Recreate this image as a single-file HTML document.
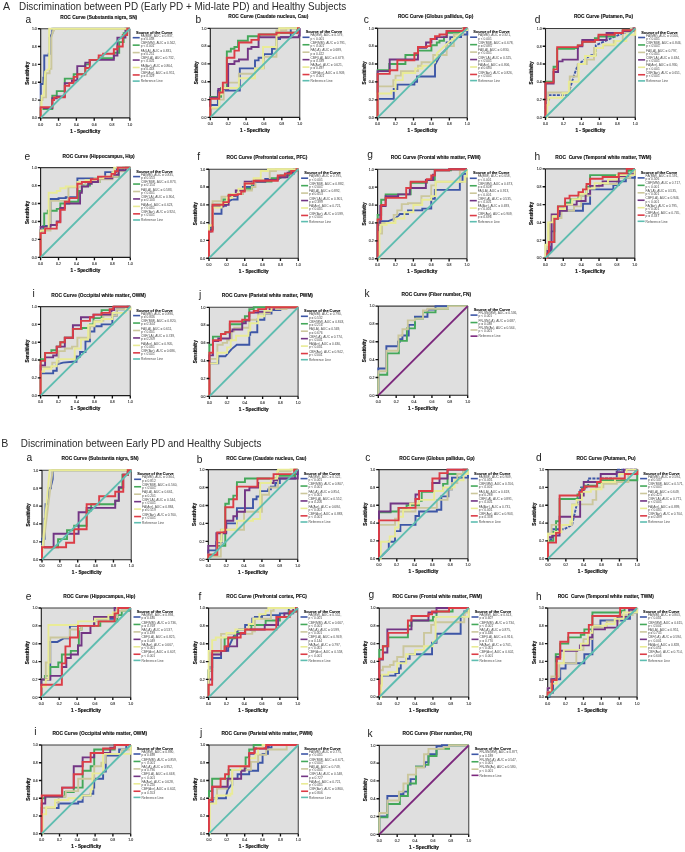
<!DOCTYPE html><html><head><meta charset="utf-8"><style>html,body{margin:0;padding:0;background:#fff;width:685px;height:852px;overflow:hidden}svg{display:block;will-change:transform;filter:blur(0.3px)}text{font-family:"Liberation Sans", sans-serif}</style></head><body>
<svg width="685" height="852" viewBox="0 0 685 852">
<rect width="685" height="852" fill="#fff"/>
<text x="3.1" y="9.5" font-size="10.6" fill="#2a2a2a">A</text>
<text x="19" y="9.5" font-size="10.7" fill="#2a2a2a" textLength="327.1" lengthAdjust="spacingAndGlyphs">Discrimination between PD (Early PD + Mid-late PD) and Healthy Subjects</text>
<text x="1.2" y="447.1" font-size="10.6" fill="#2a2a2a">B</text>
<text x="20.8" y="447.1" font-size="10.7" fill="#2a2a2a" textLength="240.6" lengthAdjust="spacingAndGlyphs">Discrimination between Early PD and Healthy Subjects</text>
<g><text x="25.6" y="23" font-size="10.2" fill="#222">a</text><text x="98.7" y="18.6" font-size="4.8" font-weight="bold" fill="#111" stroke="#111" stroke-width="0.12" text-anchor="middle" xml:space="preserve">ROC Curve (Substantia nigra, SN)</text><rect x="40.7" y="28.7" width="89.2" height="89.2" fill="#dfdfdf"/><path d="M40.7 28.7H129.9" stroke="#3c3c3c" stroke-width="1.1"/><path d="M129.9 28.7V117.9" stroke="#606060" stroke-width="1.25"/><path d="M40.7 28.7V117.9H129.9" fill="none" stroke="#1a1a1a" stroke-width="1.1"/><g fill="none" stroke-width="1.9" stroke-linejoin="miter" stroke-linecap="butt"><polyline points="40.7,117.9 40.7,84 43.38,84 43.38,77.76 44.27,77.76 44.27,65.27 44.27,55.46 47.57,55.46 48.73,55.46 48.73,53.68 49.62,53.68 49.62,37.62 52.3,33.16 52.3,28.7 129.9,28.7" stroke="#3D56A6"/><polyline points="40.7,117.9 40.7,108.98 52.3,108.98 52.3,95.6 56.76,95.6 56.76,91.14 64.78,91.14 64.78,78.65 73.7,78.65 73.7,74.19 85.3,74.19 85.3,64.38 89.76,64.38 89.76,59.92 98.68,59.92 98.68,58.14 113.84,58.14 113.84,52.78 119.2,52.78 119.2,42.08 123.66,42.08 123.66,33.16 127.22,33.16 127.22,28.7 129.9,28.7" stroke="#44A85A"/><polyline points="40.7,117.9 40.7,100.06 42.48,100.06 42.48,97.38 46.05,97.38 46.05,73.3 49.62,73.3 49.62,68.84 51.4,68.84 51.4,37.62 53.19,30.48 54.08,30.48 54.08,28.7 129.9,28.7" stroke="#CBC79C"/><polyline points="40.7,117.9 40.7,108.09 52.3,108.09 52.3,98.28 56.76,98.28 56.76,96.49 64.78,96.49 64.78,83.11 71.92,83.11 71.92,80.44 77.27,80.44 77.27,66.16 85.3,66.16 85.3,62.6 89.76,62.6 89.76,59.92 113.84,59.92 113.84,55.46 117.41,55.46 117.41,37.62 125.44,37.62 125.44,28.7 129.9,28.7" stroke="#723584"/><polyline points="40.7,117.9 40.7,108.98 41.59,108.98 41.59,95.6 43.82,95.6 43.82,94.71 45.16,71.52 48.73,68.84 49.17,68.84 49.17,28.7 129.9,28.7" stroke="#E9EB96"/><polyline points="40.7,117.9 40.7,107.2 52.3,107.2 52.3,100.06 54.08,100.06 54.08,97.38 64.78,97.38 64.78,85.79 69.24,85.79 69.24,83.11 73.7,83.11 73.7,76.87 77.27,76.87 77.27,74.19 85.3,74.19 85.3,67.95 89.76,67.95 89.76,59.92 98.68,59.92 98.68,55.46 103.14,55.46 103.14,53.68 113.84,53.68 113.84,49.22 117.41,49.22 117.41,46.54 122.76,46.54 122.76,34.94 127.22,34.94 127.22,28.7 129.9,28.7" stroke="#DC3C46"/><line x1="40.7" y1="117.9" x2="129.9" y2="28.7" stroke="#5EBDB0"/></g><path d="M40.7 117.9v2.8M40.7 117.9h-2.8" stroke="#111" stroke-width="1.35"/><text x="40.7" y="125.5" font-size="3.5" fill="#2a2a2a" stroke="#2a2a2a" stroke-width="0.1" text-anchor="middle">0.0</text><text x="36.8" y="119.25" font-size="3.5" fill="#2a2a2a" stroke="#2a2a2a" stroke-width="0.1" text-anchor="end">0.0</text><path d="M58.54 117.9v2.8M40.7 100.06h-2.8" stroke="#111" stroke-width="1.35"/><text x="58.54" y="125.5" font-size="3.5" fill="#2a2a2a" stroke="#2a2a2a" stroke-width="0.1" text-anchor="middle">0.2</text><text x="36.8" y="101.41" font-size="3.5" fill="#2a2a2a" stroke="#2a2a2a" stroke-width="0.1" text-anchor="end">0.2</text><path d="M76.38 117.9v2.8M40.7 82.22h-2.8" stroke="#111" stroke-width="1.35"/><text x="76.38" y="125.5" font-size="3.5" fill="#2a2a2a" stroke="#2a2a2a" stroke-width="0.1" text-anchor="middle">0.4</text><text x="36.8" y="83.57" font-size="3.5" fill="#2a2a2a" stroke="#2a2a2a" stroke-width="0.1" text-anchor="end">0.4</text><path d="M94.22 117.9v2.8M40.7 64.38h-2.8" stroke="#111" stroke-width="1.35"/><text x="94.22" y="125.5" font-size="3.5" fill="#2a2a2a" stroke="#2a2a2a" stroke-width="0.1" text-anchor="middle">0.6</text><text x="36.8" y="65.73" font-size="3.5" fill="#2a2a2a" stroke="#2a2a2a" stroke-width="0.1" text-anchor="end">0.6</text><path d="M112.06 117.9v2.8M40.7 46.54h-2.8" stroke="#111" stroke-width="1.35"/><text x="112.06" y="125.5" font-size="3.5" fill="#2a2a2a" stroke="#2a2a2a" stroke-width="0.1" text-anchor="middle">0.8</text><text x="36.8" y="47.89" font-size="3.5" fill="#2a2a2a" stroke="#2a2a2a" stroke-width="0.1" text-anchor="end">0.8</text><path d="M129.9 117.9v2.8M40.7 28.7h-2.8" stroke="#111" stroke-width="1.35"/><text x="129.9" y="125.5" font-size="3.5" fill="#2a2a2a" stroke="#2a2a2a" stroke-width="0.1" text-anchor="middle">1.0</text><text x="36.8" y="30.05" font-size="3.5" fill="#2a2a2a" stroke="#2a2a2a" stroke-width="0.1" text-anchor="end">1.0</text><text x="85.3" y="132.5" font-size="4.65" font-weight="bold" fill="#111" stroke="#111" stroke-width="0.18" text-anchor="middle">1 - Specificity</text><text transform="translate(28.6 73.3) rotate(-90)" font-size="4.6" font-weight="bold" fill="#111" stroke="#111" stroke-width="0.18" text-anchor="middle">Sensitivity</text><text x="135.9" y="33.8" font-size="3.84" font-weight="bold" fill="#111" stroke="#111" stroke-width="0.1">Source of the Curve</text><line x1="132.7" y1="37.7" x2="139.7" y2="37.7" stroke="#3D56A6" stroke-width="1.6"/><text x="140.7" y="36.8" font-size="3.25" fill="#4a4a4a">FA(MM), AUC = 0.837,</text><text x="140.7" y="40" font-size="3.25" fill="#4a4a4a">p = 0.038</text><line x1="132.7" y1="45.15" x2="139.7" y2="45.15" stroke="#44A85A" stroke-width="1.6"/><text x="140.7" y="44.25" font-size="3.25" fill="#4a4a4a">CBF(MM), AUC = 0.562,</text><text x="140.7" y="47.45" font-size="3.25" fill="#4a4a4a">p < 0.001</text><line x1="132.7" y1="52.6" x2="139.7" y2="52.6" stroke="#CBC79C" stroke-width="1.6"/><text x="140.7" y="51.7" font-size="3.25" fill="#4a4a4a">FA(LA), AUC = 0.831,</text><text x="140.7" y="54.9" font-size="3.25" fill="#4a4a4a">p = 0.251</text><line x1="132.7" y1="60.05" x2="139.7" y2="60.05" stroke="#723584" stroke-width="1.6"/><text x="140.7" y="59.15" font-size="3.25" fill="#4a4a4a">CBF(LA), AUC = 0.732,</text><text x="140.7" y="62.35" font-size="3.25" fill="#4a4a4a">p < 0.001</text><line x1="132.7" y1="67.5" x2="139.7" y2="67.5" stroke="#E9EB96" stroke-width="1.6"/><text x="140.7" y="66.6" font-size="3.25" fill="#4a4a4a">FA(Avr), AUC = 0.864,</text><text x="140.7" y="69.8" font-size="3.25" fill="#4a4a4a">p = 0.443</text><line x1="132.7" y1="74.95" x2="139.7" y2="74.95" stroke="#DC3C46" stroke-width="1.6"/><text x="140.7" y="74.05" font-size="3.25" fill="#4a4a4a">CBF(Avr), AUC = 0.911,</text><text x="140.7" y="77.25" font-size="3.25" fill="#4a4a4a">p = 0.329</text><line x1="132.7" y1="81.1" x2="139.7" y2="81.1" stroke="#5EBDB0" stroke-width="1.6"/><text x="140.7" y="82.3" font-size="3.25" fill="#4a4a4a">Reference Line</text></g>
<g><text x="195.4" y="22.9" font-size="10.2" fill="#222">b</text><text x="268.3" y="18.2" font-size="4.8" font-weight="bold" fill="#111" stroke="#111" stroke-width="0.12" text-anchor="middle" xml:space="preserve">ROC Curve (Caudate nucleus, Cau)</text><rect x="210.3" y="28.3" width="89.4" height="89.1" fill="#dfdfdf"/><path d="M210.3 28.3H299.7" stroke="#3c3c3c" stroke-width="1.1"/><path d="M299.7 28.3V117.4" stroke="#606060" stroke-width="1.25"/><path d="M210.3 28.3V117.4H299.7" fill="none" stroke="#1a1a1a" stroke-width="1.1"/><g fill="none" stroke-width="1.9" stroke-linejoin="miter" stroke-linecap="butt"><polyline points="210.3,117.4 210.3,104.93 217.9,104.93 217.9,90.67 239.8,90.67 239.8,68.39 255,68.39 255,60.38 258.58,60.38 258.58,57.7 263.94,57.7 263.94,54.14 271.99,54.14 271.99,48.79 276.46,48.79 276.46,38.99 280.03,38.99 280.03,37.21 290.76,37.21 290.76,28.3 299.7,28.3" stroke="#3D56A6"/><polyline points="210.3,117.4 210.3,96.91 221.03,96.91 221.03,88 226.84,88 226.84,51.47 230.86,51.47 230.86,48.79 234.44,48.79 234.44,47.01 238.01,47.01 238.01,40.77 247.85,40.77 247.85,36.32 259.47,36.32 259.47,34.54 276.46,34.54 276.46,32.75 297.02,32.75 297.02,28.3 299.7,28.3" stroke="#44A85A"/><polyline points="210.3,117.4 210.3,108.49 219.24,108.49 219.24,99.58 223.71,99.58 223.71,82.65 238.91,82.65 238.91,73.74 255,73.74 255,68.39 263.94,68.39 263.94,56.81 276.46,56.81 276.46,30.08 286.29,30.08 286.29,28.3 299.7,28.3" stroke="#CBC79C"/><polyline points="210.3,117.4 210.3,97.8 218.35,97.8 218.35,88.89 228.18,88.89 228.18,63.94 234.44,63.94 234.44,61.27 238.91,61.27 238.91,59.48 247.85,59.48 247.85,48.79 251.42,48.79 251.42,47.01 258.58,47.01 258.58,37.21 298.81,37.21 298.81,35.43 299.7,35.43 299.7,28.3" stroke="#723584"/><polyline points="210.3,117.4 210.3,107.6 219.24,107.6 219.24,94.23 221.92,94.23 221.92,88 238.91,88 238.91,78.2 255,78.2 255,68.39 263.05,68.39 263.05,47.01 276.46,47.01 276.46,35.43 279.14,35.43 279.14,28.3 299.7,28.3" stroke="#E9EB96"/><polyline points="210.3,117.4 210.3,98.69 219.24,98.69 219.24,92.45 222.82,92.45 222.82,82.65 226.84,82.65 226.84,57.7 234.44,57.7 234.44,50.58 238.91,50.58 238.91,42.56 251.42,42.56 251.42,39.88 258.58,39.88 258.58,34.54 276.46,34.54 276.46,32.75 297.91,32.75 297.91,28.3 299.7,28.3" stroke="#DC3C46"/><line x1="210.3" y1="117.4" x2="299.7" y2="28.3" stroke="#5EBDB0"/></g><path d="M210.3 117.4v2.8M210.3 117.4h-2.8" stroke="#111" stroke-width="1.35"/><text x="210.3" y="125" font-size="3.5" fill="#2a2a2a" stroke="#2a2a2a" stroke-width="0.1" text-anchor="middle">0.0</text><text x="206.4" y="118.75" font-size="3.5" fill="#2a2a2a" stroke="#2a2a2a" stroke-width="0.1" text-anchor="end">0.0</text><path d="M228.18 117.4v2.8M210.3 99.58h-2.8" stroke="#111" stroke-width="1.35"/><text x="228.18" y="125" font-size="3.5" fill="#2a2a2a" stroke="#2a2a2a" stroke-width="0.1" text-anchor="middle">0.2</text><text x="206.4" y="100.93" font-size="3.5" fill="#2a2a2a" stroke="#2a2a2a" stroke-width="0.1" text-anchor="end">0.2</text><path d="M246.06 117.4v2.8M210.3 81.76h-2.8" stroke="#111" stroke-width="1.35"/><text x="246.06" y="125" font-size="3.5" fill="#2a2a2a" stroke="#2a2a2a" stroke-width="0.1" text-anchor="middle">0.4</text><text x="206.4" y="83.11" font-size="3.5" fill="#2a2a2a" stroke="#2a2a2a" stroke-width="0.1" text-anchor="end">0.4</text><path d="M263.94 117.4v2.8M210.3 63.94h-2.8" stroke="#111" stroke-width="1.35"/><text x="263.94" y="125" font-size="3.5" fill="#2a2a2a" stroke="#2a2a2a" stroke-width="0.1" text-anchor="middle">0.6</text><text x="206.4" y="65.29" font-size="3.5" fill="#2a2a2a" stroke="#2a2a2a" stroke-width="0.1" text-anchor="end">0.6</text><path d="M281.82 117.4v2.8M210.3 46.12h-2.8" stroke="#111" stroke-width="1.35"/><text x="281.82" y="125" font-size="3.5" fill="#2a2a2a" stroke="#2a2a2a" stroke-width="0.1" text-anchor="middle">0.8</text><text x="206.4" y="47.47" font-size="3.5" fill="#2a2a2a" stroke="#2a2a2a" stroke-width="0.1" text-anchor="end">0.8</text><path d="M299.7 117.4v2.8M210.3 28.3h-2.8" stroke="#111" stroke-width="1.35"/><text x="299.7" y="125" font-size="3.5" fill="#2a2a2a" stroke="#2a2a2a" stroke-width="0.1" text-anchor="middle">1.0</text><text x="206.4" y="29.65" font-size="3.5" fill="#2a2a2a" stroke="#2a2a2a" stroke-width="0.1" text-anchor="end">1.0</text><text x="255" y="132" font-size="4.65" font-weight="bold" fill="#111" stroke="#111" stroke-width="0.18" text-anchor="middle">1 - Specificity</text><text transform="translate(198.2 72.85) rotate(-90)" font-size="4.6" font-weight="bold" fill="#111" stroke="#111" stroke-width="0.18" text-anchor="middle">Sensitivity</text><text x="305.7" y="33.4" font-size="3.84" font-weight="bold" fill="#111" stroke="#111" stroke-width="0.1">Source of the Curve</text><line x1="302.5" y1="37.3" x2="309.5" y2="37.3" stroke="#3D56A6" stroke-width="1.6"/><text x="310.5" y="36.4" font-size="3.25" fill="#4a4a4a">FA(MM), AUC = 0.579,</text><text x="310.5" y="39.6" font-size="3.25" fill="#4a4a4a">p < 0.001</text><line x1="302.5" y1="44.75" x2="309.5" y2="44.75" stroke="#44A85A" stroke-width="1.6"/><text x="310.5" y="43.85" font-size="3.25" fill="#4a4a4a">CBF(MM), AUC = 0.791,</text><text x="310.5" y="47.05" font-size="3.25" fill="#4a4a4a">p < 0.001</text><line x1="302.5" y1="52.2" x2="309.5" y2="52.2" stroke="#CBC79C" stroke-width="1.6"/><text x="310.5" y="51.3" font-size="3.25" fill="#4a4a4a">FA(LA), AUC = 0.689,</text><text x="310.5" y="54.5" font-size="3.25" fill="#4a4a4a">p = 0.422</text><line x1="302.5" y1="59.65" x2="309.5" y2="59.65" stroke="#723584" stroke-width="1.6"/><text x="310.5" y="58.75" font-size="3.25" fill="#4a4a4a">CBF(LA), AUC = 0.679,</text><text x="310.5" y="61.95" font-size="3.25" fill="#4a4a4a">p = 0.339</text><line x1="302.5" y1="67.1" x2="309.5" y2="67.1" stroke="#E9EB96" stroke-width="1.6"/><text x="310.5" y="66.2" font-size="3.25" fill="#4a4a4a">FA(Avr), AUC = 0.621,</text><text x="310.5" y="69.4" font-size="3.25" fill="#4a4a4a">p = 0.497</text><line x1="302.5" y1="74.55" x2="309.5" y2="74.55" stroke="#DC3C46" stroke-width="1.6"/><text x="310.5" y="73.65" font-size="3.25" fill="#4a4a4a">CBF(Avr), AUC = 0.909,</text><text x="310.5" y="76.85" font-size="3.25" fill="#4a4a4a">p < 0.001</text><line x1="302.5" y1="80.7" x2="309.5" y2="80.7" stroke="#5EBDB0" stroke-width="1.6"/><text x="310.5" y="81.9" font-size="3.25" fill="#4a4a4a">Reference Line</text></g>
<g><text x="363.8" y="23" font-size="10.2" fill="#222">c</text><text x="435.6" y="18.1" font-size="4.8" font-weight="bold" fill="#111" stroke="#111" stroke-width="0.12" text-anchor="middle" xml:space="preserve">ROC Curve (Globus pallidus, Gp)</text><rect x="377.6" y="28.2" width="89.7" height="89.5" fill="#dfdfdf"/><path d="M377.6 28.2H467.3" stroke="#3c3c3c" stroke-width="1.1"/><path d="M467.3 28.2V117.7" stroke="#606060" stroke-width="1.25"/><path d="M377.6 28.2V117.7H467.3" fill="none" stroke="#1a1a1a" stroke-width="1.1"/><g fill="none" stroke-width="1.9" stroke-linejoin="miter" stroke-linecap="butt"><polyline points="377.6,117.7 377.6,98.91 393.75,98.91 393.75,89.06 397.33,89.06 397.33,84.59 414.38,84.59 414.38,81.9 417.07,81.9 417.07,76.53 435.01,76.53 435.01,64.9 440.39,55.05 446.67,48.78 446.67,42.52 450.26,42.52 450.26,37.15 461.02,37.15 461.02,34.47 467.3,34.47 467.3,28.2" stroke="#3D56A6"/><polyline points="377.6,117.7 377.6,70.27 389.26,70.27 389.26,64 405.41,64 405.41,55.05 417.97,55.05 417.97,50.58 431.42,50.58 431.42,45.2 436.8,45.2 436.8,42.52 439.49,42.52 439.49,40.73 443.98,40.73 443.98,37.15 446.67,37.15 446.67,32.68 462.82,32.68 462.82,28.2 467.3,28.2" stroke="#44A85A"/><polyline points="377.6,117.7 377.6,86.38 393.3,86.38 393.3,80.11 395.54,80.11 395.54,75.64 400.92,75.64 400.92,71.16 417.97,71.16 417.97,65.79 421.55,65.79 421.55,62.21 433.21,62.21 433.21,55.05 446.67,55.05 446.67,46.1 453.85,46.1 453.85,34.47 462.82,34.47 462.82,28.2 467.3,28.2" stroke="#CBC79C"/><polyline points="377.6,117.7 377.6,71.16 389.71,71.16 389.71,59.52 417.97,59.52 417.97,47.89 426.04,47.89 426.04,42.52 431.42,42.52 431.42,38.94 436.8,38.94 436.8,37.15 446.67,37.15 446.67,30.89 464.61,30.89 464.61,28.2 467.3,28.2" stroke="#723584"/><polyline points="377.6,117.7 377.6,93.53 391.06,93.53 391.06,90.85 395.54,90.85 395.54,80.11 402.72,80.11 402.72,72.95 415.27,72.95 415.27,68.47 422.45,68.47 422.45,65.79 431.42,65.79 431.42,62.21 435.01,62.21 435.01,58.63 436.8,58.63 436.8,53.26 449.36,41.62 465.51,29.99 467.3,29.99 467.3,28.2" stroke="#E9EB96"/><polyline points="377.6,117.7 377.6,73.84 389.71,73.84 389.71,70.27 397.33,70.27 397.33,60.42 414.38,60.42 414.38,53.26 417.97,53.26 417.97,47 426.94,47 426.94,46.1 430.52,46.1 430.52,38.94 435.01,38.94 435.01,36.25 439.49,36.25 439.49,34.47 446.67,34.47 446.67,30.89 463.71,30.89 463.71,28.2 467.3,28.2" stroke="#DC3C46"/><line x1="377.6" y1="117.7" x2="467.3" y2="28.2" stroke="#5EBDB0"/></g><path d="M377.6 117.7v2.8M377.6 117.7h-2.8" stroke="#111" stroke-width="1.35"/><text x="377.6" y="125.3" font-size="3.5" fill="#2a2a2a" stroke="#2a2a2a" stroke-width="0.1" text-anchor="middle">0.0</text><text x="373.7" y="119.05" font-size="3.5" fill="#2a2a2a" stroke="#2a2a2a" stroke-width="0.1" text-anchor="end">0.0</text><path d="M395.54 117.7v2.8M377.6 99.8h-2.8" stroke="#111" stroke-width="1.35"/><text x="395.54" y="125.3" font-size="3.5" fill="#2a2a2a" stroke="#2a2a2a" stroke-width="0.1" text-anchor="middle">0.2</text><text x="373.7" y="101.15" font-size="3.5" fill="#2a2a2a" stroke="#2a2a2a" stroke-width="0.1" text-anchor="end">0.2</text><path d="M413.48 117.7v2.8M377.6 81.9h-2.8" stroke="#111" stroke-width="1.35"/><text x="413.48" y="125.3" font-size="3.5" fill="#2a2a2a" stroke="#2a2a2a" stroke-width="0.1" text-anchor="middle">0.4</text><text x="373.7" y="83.25" font-size="3.5" fill="#2a2a2a" stroke="#2a2a2a" stroke-width="0.1" text-anchor="end">0.4</text><path d="M431.42 117.7v2.8M377.6 64h-2.8" stroke="#111" stroke-width="1.35"/><text x="431.42" y="125.3" font-size="3.5" fill="#2a2a2a" stroke="#2a2a2a" stroke-width="0.1" text-anchor="middle">0.6</text><text x="373.7" y="65.35" font-size="3.5" fill="#2a2a2a" stroke="#2a2a2a" stroke-width="0.1" text-anchor="end">0.6</text><path d="M449.36 117.7v2.8M377.6 46.1h-2.8" stroke="#111" stroke-width="1.35"/><text x="449.36" y="125.3" font-size="3.5" fill="#2a2a2a" stroke="#2a2a2a" stroke-width="0.1" text-anchor="middle">0.8</text><text x="373.7" y="47.45" font-size="3.5" fill="#2a2a2a" stroke="#2a2a2a" stroke-width="0.1" text-anchor="end">0.8</text><path d="M467.3 117.7v2.8M377.6 28.2h-2.8" stroke="#111" stroke-width="1.35"/><text x="467.3" y="125.3" font-size="3.5" fill="#2a2a2a" stroke="#2a2a2a" stroke-width="0.1" text-anchor="middle">1.0</text><text x="373.7" y="29.55" font-size="3.5" fill="#2a2a2a" stroke="#2a2a2a" stroke-width="0.1" text-anchor="end">1.0</text><text x="422.45" y="132.3" font-size="4.65" font-weight="bold" fill="#111" stroke="#111" stroke-width="0.18" text-anchor="middle">1 - Specificity</text><text transform="translate(365.5 72.95) rotate(-90)" font-size="4.6" font-weight="bold" fill="#111" stroke="#111" stroke-width="0.18" text-anchor="middle">Sensitivity</text><text x="473.3" y="33.3" font-size="3.84" font-weight="bold" fill="#111" stroke="#111" stroke-width="0.1">Source of the Curve</text><line x1="470.1" y1="37.2" x2="477.1" y2="37.2" stroke="#3D56A6" stroke-width="1.6"/><text x="478.1" y="36.3" font-size="3.25" fill="#4a4a4a">FA(MM), AUC = 0.921,</text><text x="478.1" y="39.5" font-size="3.25" fill="#4a4a4a">p < 0.001</text><line x1="470.1" y1="44.65" x2="477.1" y2="44.65" stroke="#44A85A" stroke-width="1.6"/><text x="478.1" y="43.75" font-size="3.25" fill="#4a4a4a">CBF(MM), AUC = 0.678,</text><text x="478.1" y="46.95" font-size="3.25" fill="#4a4a4a">p = 0.085</text><line x1="470.1" y1="52.1" x2="477.1" y2="52.1" stroke="#CBC79C" stroke-width="1.6"/><text x="478.1" y="51.2" font-size="3.25" fill="#4a4a4a">FA(LA), AUC = 0.830,</text><text x="478.1" y="54.4" font-size="3.25" fill="#4a4a4a">p < 0.001</text><line x1="470.1" y1="59.55" x2="477.1" y2="59.55" stroke="#723584" stroke-width="1.6"/><text x="478.1" y="58.65" font-size="3.25" fill="#4a4a4a">CBF(LA), AUC = 0.525,</text><text x="478.1" y="61.85" font-size="3.25" fill="#4a4a4a">p < 0.001</text><line x1="470.1" y1="67" x2="477.1" y2="67" stroke="#E9EB96" stroke-width="1.6"/><text x="478.1" y="66.1" font-size="3.25" fill="#4a4a4a">FA(Avr), AUC = 0.806,</text><text x="478.1" y="69.3" font-size="3.25" fill="#4a4a4a">p = 0.680</text><line x1="470.1" y1="74.45" x2="477.1" y2="74.45" stroke="#DC3C46" stroke-width="1.6"/><text x="478.1" y="73.55" font-size="3.25" fill="#4a4a4a">CBF(Avr), AUC = 0.826,</text><text x="478.1" y="76.75" font-size="3.25" fill="#4a4a4a">p < 0.001</text><line x1="470.1" y1="80.6" x2="477.1" y2="80.6" stroke="#5EBDB0" stroke-width="1.6"/><text x="478.1" y="81.8" font-size="3.25" fill="#4a4a4a">Reference Line</text></g>
<g><text x="534.8" y="23" font-size="10.2" fill="#222">d</text><text x="603.5" y="18.4" font-size="4.8" font-weight="bold" fill="#111" stroke="#111" stroke-width="0.12" text-anchor="middle" xml:space="preserve">ROC Curve (Putamen, Pu)</text><rect x="545.5" y="28.5" width="89.8" height="88.8" fill="#dfdfdf"/><path d="M545.5 28.5H635.3" stroke="#3c3c3c" stroke-width="1.1"/><path d="M635.3 28.5V117.3" stroke="#606060" stroke-width="1.25"/><path d="M545.5 28.5V117.3H635.3" fill="none" stroke="#1a1a1a" stroke-width="1.1"/><g fill="none" stroke-width="1.9" stroke-linejoin="miter" stroke-linecap="butt"><polyline points="545.5,117.3 545.5,99.54 549.09,99.54 549.09,95.1 567.95,95.1 574.24,74.68 577.83,64.91 590.4,55.14 595.79,55.14 595.79,45.37 612.85,37.38 635.3,28.5" stroke="#3D56A6" stroke-dasharray="3 1.2"/><polyline points="545.5,117.3 545.5,81.78 553.58,81.78 553.58,66.68 557.17,66.68 557.17,48.92 574.24,48.92 574.24,48.04 577.83,48.04 577.83,45.37 582.32,45.37 582.32,41.82 594.89,41.82 594.89,38.27 598.48,38.27 598.48,36.49 614.65,36.49 614.65,32.94 622.73,32.94 622.73,30.28 633.5,30.28 633.5,28.5 635.3,28.5" stroke="#44A85A"/><polyline points="545.5,117.3 545.5,99.54 548.19,99.54 548.19,92.44 569.75,92.44 569.75,76.45 577.83,76.45 577.83,64.02 586.81,64.02 586.81,59.58 593.99,59.58 593.99,48.04 602.97,48.04 602.97,45.37 613.75,45.37 613.75,40.93 622.73,40.93 622.73,32.05 630.81,32.05 630.81,28.5 635.3,28.5" stroke="#CBC79C"/><polyline points="545.5,117.3 545.5,83.56 553.58,83.56 553.58,72.01 558.07,72.01 558.07,61.36 562.56,61.36 562.56,59.58 577.83,59.58 577.83,46.26 582.32,46.26 582.32,40.04 606.56,40.04 606.56,32.94 622.73,32.94 622.73,31.16 633.5,31.16 633.5,28.5 635.3,28.5" stroke="#723584"/><polyline points="545.5,117.3 547.3,117.3 547.3,104.87 548.64,104.87 548.64,97.76 562.56,97.76 562.56,93.32 568.85,93.32 568.85,81.78 578.73,81.78 578.73,64.02 585.01,64.02 585.01,56.03 595.79,56.03 595.79,48.04 602.97,48.04 602.97,44.48 615.54,44.48 615.54,40.93 626.32,40.93 626.32,34.72 635.3,34.72 635.3,28.5" stroke="#E9EB96"/><polyline points="545.5,117.3 545.5,82.67 553.58,82.67 553.58,69.35 557.17,69.35 557.17,47.15 577.83,47.15 577.83,45.37 582.32,45.37 582.32,41.82 594.89,41.82 594.89,40.04 598.48,40.04 598.48,34.72 614.65,34.72 614.65,32.94 622.73,32.94 622.73,30.28 634.4,30.28 634.4,28.5 635.3,28.5" stroke="#DC3C46"/><line x1="545.5" y1="117.3" x2="635.3" y2="28.5" stroke="#5EBDB0"/></g><path d="M545.5 117.3v2.8M545.5 117.3h-2.8" stroke="#111" stroke-width="1.35"/><text x="545.5" y="124.9" font-size="3.5" fill="#2a2a2a" stroke="#2a2a2a" stroke-width="0.1" text-anchor="middle">0.0</text><text x="541.6" y="118.65" font-size="3.5" fill="#2a2a2a" stroke="#2a2a2a" stroke-width="0.1" text-anchor="end">0.0</text><path d="M563.46 117.3v2.8M545.5 99.54h-2.8" stroke="#111" stroke-width="1.35"/><text x="563.46" y="124.9" font-size="3.5" fill="#2a2a2a" stroke="#2a2a2a" stroke-width="0.1" text-anchor="middle">0.2</text><text x="541.6" y="100.89" font-size="3.5" fill="#2a2a2a" stroke="#2a2a2a" stroke-width="0.1" text-anchor="end">0.2</text><path d="M581.42 117.3v2.8M545.5 81.78h-2.8" stroke="#111" stroke-width="1.35"/><text x="581.42" y="124.9" font-size="3.5" fill="#2a2a2a" stroke="#2a2a2a" stroke-width="0.1" text-anchor="middle">0.4</text><text x="541.6" y="83.13" font-size="3.5" fill="#2a2a2a" stroke="#2a2a2a" stroke-width="0.1" text-anchor="end">0.4</text><path d="M599.38 117.3v2.8M545.5 64.02h-2.8" stroke="#111" stroke-width="1.35"/><text x="599.38" y="124.9" font-size="3.5" fill="#2a2a2a" stroke="#2a2a2a" stroke-width="0.1" text-anchor="middle">0.6</text><text x="541.6" y="65.37" font-size="3.5" fill="#2a2a2a" stroke="#2a2a2a" stroke-width="0.1" text-anchor="end">0.6</text><path d="M617.34 117.3v2.8M545.5 46.26h-2.8" stroke="#111" stroke-width="1.35"/><text x="617.34" y="124.9" font-size="3.5" fill="#2a2a2a" stroke="#2a2a2a" stroke-width="0.1" text-anchor="middle">0.8</text><text x="541.6" y="47.61" font-size="3.5" fill="#2a2a2a" stroke="#2a2a2a" stroke-width="0.1" text-anchor="end">0.8</text><path d="M635.3 117.3v2.8M545.5 28.5h-2.8" stroke="#111" stroke-width="1.35"/><text x="635.3" y="124.9" font-size="3.5" fill="#2a2a2a" stroke="#2a2a2a" stroke-width="0.1" text-anchor="middle">1.0</text><text x="541.6" y="29.85" font-size="3.5" fill="#2a2a2a" stroke="#2a2a2a" stroke-width="0.1" text-anchor="end">1.0</text><text x="590.4" y="131.9" font-size="4.65" font-weight="bold" fill="#111" stroke="#111" stroke-width="0.18" text-anchor="middle">1 - Specificity</text><text transform="translate(533.4 72.9) rotate(-90)" font-size="4.6" font-weight="bold" fill="#111" stroke="#111" stroke-width="0.18" text-anchor="middle">Sensitivity</text><text x="641.3" y="33.6" font-size="3.84" font-weight="bold" fill="#111" stroke="#111" stroke-width="0.1">Source of the Curve</text><line x1="638.1" y1="37.5" x2="645.1" y2="37.5" stroke="#3D56A6" stroke-width="1.6"/><text x="646.1" y="36.6" font-size="3.25" fill="#4a4a4a">FA(MM), AUC = 0.566,</text><text x="646.1" y="39.8" font-size="3.25" fill="#4a4a4a">p < 0.001</text><line x1="638.1" y1="44.95" x2="645.1" y2="44.95" stroke="#44A85A" stroke-width="1.6"/><text x="646.1" y="44.05" font-size="3.25" fill="#4a4a4a">CBF(MM), AUC = 0.846,</text><text x="646.1" y="47.25" font-size="3.25" fill="#4a4a4a">p < 0.001</text><line x1="638.1" y1="52.4" x2="645.1" y2="52.4" stroke="#CBC79C" stroke-width="1.6"/><text x="646.1" y="51.5" font-size="3.25" fill="#4a4a4a">FA(LA), AUC = 0.797,</text><text x="646.1" y="54.7" font-size="3.25" fill="#4a4a4a">p < 0.001</text><line x1="638.1" y1="59.85" x2="645.1" y2="59.85" stroke="#723584" stroke-width="1.6"/><text x="646.1" y="58.95" font-size="3.25" fill="#4a4a4a">CBF(LA), AUC = 0.634,</text><text x="646.1" y="62.15" font-size="3.25" fill="#4a4a4a">p < 0.001</text><line x1="638.1" y1="67.3" x2="645.1" y2="67.3" stroke="#E9EB96" stroke-width="1.6"/><text x="646.1" y="66.4" font-size="3.25" fill="#4a4a4a">FA(Avr), AUC = 0.930,</text><text x="646.1" y="69.6" font-size="3.25" fill="#4a4a4a">p < 0.001</text><line x1="638.1" y1="74.75" x2="645.1" y2="74.75" stroke="#DC3C46" stroke-width="1.6"/><text x="646.1" y="73.85" font-size="3.25" fill="#4a4a4a">CBF(Avr), AUC = 0.651,</text><text x="646.1" y="77.05" font-size="3.25" fill="#4a4a4a">p < 0.001</text><line x1="638.1" y1="80.9" x2="645.1" y2="80.9" stroke="#5EBDB0" stroke-width="1.6"/><text x="646.1" y="82.1" font-size="3.25" fill="#4a4a4a">Reference Line</text></g>
<g><text x="24.45" y="160" font-size="10.2" fill="#222">e</text><text x="98.6" y="157.5" font-size="4.8" font-weight="bold" fill="#111" stroke="#111" stroke-width="0.12" text-anchor="middle" xml:space="preserve">ROC Curve (Hippocampus, Hip)</text><rect x="40.6" y="167.6" width="89.7" height="89.8" fill="#dfdfdf"/><path d="M40.6 167.6H130.3" stroke="#3c3c3c" stroke-width="1.1"/><path d="M130.3 167.6V257.4" stroke="#606060" stroke-width="1.25"/><path d="M40.6 167.6V257.4H130.3" fill="none" stroke="#1a1a1a" stroke-width="1.1"/><g fill="none" stroke-width="1.9" stroke-linejoin="miter" stroke-linecap="butt"><polyline points="40.6,257.4 40.6,230.46 43.29,230.46 43.29,225.97 50.47,225.97 50.47,199.03 58.54,199.03 58.54,198.13 65.72,198.13 65.72,197.23 77.38,197.23 77.38,178.38 105.18,178.38 105.18,172.09 116.84,172.09 116.84,167.6 130.3,167.6" stroke="#3D56A6"/><polyline points="40.6,257.4 40.6,230.46 44.19,230.46 44.19,213.4 47.78,213.4 47.78,210.7 56.75,210.7 56.75,208.91 60.33,208.91 60.33,203.52 69.3,203.52 69.3,201.72 78.27,201.72 78.27,190.95 81.86,190.95 81.86,185.56 89.94,185.56 89.94,181.97 99.8,181.97 99.8,178.82 110.57,178.82 110.57,176.58 118.64,176.58 118.64,170.29 123.12,170.29 123.12,167.6 130.3,167.6" stroke="#44A85A"/><polyline points="40.6,257.4 40.6,230.46 50.47,230.46 50.47,200.83 68.41,200.83 68.41,199.03 68.41,187.36 79.17,187.36 79.17,186.46 85.45,186.46 85.45,181.97 99.8,181.97 99.8,179.27 112.36,179.27 112.36,176.58 117.74,176.58 117.74,171.19 125.81,171.19 125.81,167.6 130.3,167.6" stroke="#CBC79C"/><polyline points="40.6,257.4 40.6,226.87 50.47,226.87 50.47,225.07 56.75,225.07 56.75,221.48 60.33,221.48 60.33,208.01 64.82,208.01 64.82,203.52 80.07,203.52 80.07,192.74 81.86,192.74 81.86,186.46 88.14,186.46 88.14,183.76 91.73,183.76 91.73,181.97 98.01,181.97 98.01,178.38 112.36,178.38 112.36,174.78 118.64,174.78 118.64,170.29 125.81,170.29 125.81,167.6 130.3,167.6" stroke="#723584"/><polyline points="40.6,257.4 40.6,230.46 45.09,230.46 45.09,228.66 48.67,228.66 48.67,192.74 56.75,192.74 56.75,190.95 60.33,190.95 60.33,188.25 65.72,188.25 65.72,186.46 77.38,186.46 77.38,181.97 85.45,181.97 85.45,180.17 94.42,180.17 94.42,178.38 103.39,178.38 103.39,176.58 112.36,176.58 112.36,172.09 114.15,172.09 114.15,167.6 130.3,167.6" stroke="#E9EB96"/><polyline points="40.6,257.4 40.6,233.15 45.09,233.15 45.09,228.66 56.75,228.66 56.75,222.38 60.33,222.38 60.33,209.81 64.82,209.81 64.82,201.72 69.3,201.72 69.3,198.13 77.38,198.13 77.38,183.76 81.86,183.76 81.86,181.97 90.83,181.97 90.83,179.27 98.01,179.27 98.01,176.58 111.46,176.58 111.46,173.89 115.05,173.89 115.05,171.19 117.74,171.19 117.74,167.6 130.3,167.6" stroke="#DC3C46"/><line x1="40.6" y1="257.4" x2="130.3" y2="167.6" stroke="#5EBDB0"/></g><path d="M40.6 257.4v2.8M40.6 257.4h-2.8" stroke="#111" stroke-width="1.35"/><text x="40.6" y="265" font-size="3.5" fill="#2a2a2a" stroke="#2a2a2a" stroke-width="0.1" text-anchor="middle">0.0</text><text x="36.7" y="258.75" font-size="3.5" fill="#2a2a2a" stroke="#2a2a2a" stroke-width="0.1" text-anchor="end">0.0</text><path d="M58.54 257.4v2.8M40.6 239.44h-2.8" stroke="#111" stroke-width="1.35"/><text x="58.54" y="265" font-size="3.5" fill="#2a2a2a" stroke="#2a2a2a" stroke-width="0.1" text-anchor="middle">0.2</text><text x="36.7" y="240.79" font-size="3.5" fill="#2a2a2a" stroke="#2a2a2a" stroke-width="0.1" text-anchor="end">0.2</text><path d="M76.48 257.4v2.8M40.6 221.48h-2.8" stroke="#111" stroke-width="1.35"/><text x="76.48" y="265" font-size="3.5" fill="#2a2a2a" stroke="#2a2a2a" stroke-width="0.1" text-anchor="middle">0.4</text><text x="36.7" y="222.83" font-size="3.5" fill="#2a2a2a" stroke="#2a2a2a" stroke-width="0.1" text-anchor="end">0.4</text><path d="M94.42 257.4v2.8M40.6 203.52h-2.8" stroke="#111" stroke-width="1.35"/><text x="94.42" y="265" font-size="3.5" fill="#2a2a2a" stroke="#2a2a2a" stroke-width="0.1" text-anchor="middle">0.6</text><text x="36.7" y="204.87" font-size="3.5" fill="#2a2a2a" stroke="#2a2a2a" stroke-width="0.1" text-anchor="end">0.6</text><path d="M112.36 257.4v2.8M40.6 185.56h-2.8" stroke="#111" stroke-width="1.35"/><text x="112.36" y="265" font-size="3.5" fill="#2a2a2a" stroke="#2a2a2a" stroke-width="0.1" text-anchor="middle">0.8</text><text x="36.7" y="186.91" font-size="3.5" fill="#2a2a2a" stroke="#2a2a2a" stroke-width="0.1" text-anchor="end">0.8</text><path d="M130.3 257.4v2.8M40.6 167.6h-2.8" stroke="#111" stroke-width="1.35"/><text x="130.3" y="265" font-size="3.5" fill="#2a2a2a" stroke="#2a2a2a" stroke-width="0.1" text-anchor="middle">1.0</text><text x="36.7" y="168.95" font-size="3.5" fill="#2a2a2a" stroke="#2a2a2a" stroke-width="0.1" text-anchor="end">1.0</text><text x="85.45" y="272" font-size="4.65" font-weight="bold" fill="#111" stroke="#111" stroke-width="0.18" text-anchor="middle">1 - Specificity</text><text transform="translate(28.5 212.5) rotate(-90)" font-size="4.6" font-weight="bold" fill="#111" stroke="#111" stroke-width="0.18" text-anchor="middle">Sensitivity</text><text x="136.3" y="172.7" font-size="3.84" font-weight="bold" fill="#111" stroke="#111" stroke-width="0.1">Source of the Curve</text><line x1="133.1" y1="176.6" x2="140.1" y2="176.6" stroke="#3D56A6" stroke-width="1.6"/><text x="141.1" y="175.7" font-size="3.25" fill="#4a4a4a">FA(MM), AUC = 0.835,</text><text x="141.1" y="178.9" font-size="3.25" fill="#4a4a4a">p = 0.553</text><line x1="133.1" y1="184.05" x2="140.1" y2="184.05" stroke="#44A85A" stroke-width="1.6"/><text x="141.1" y="183.15" font-size="3.25" fill="#4a4a4a">CBF(MM), AUC = 0.873,</text><text x="141.1" y="186.35" font-size="3.25" fill="#4a4a4a">p = 0.154</text><line x1="133.1" y1="191.5" x2="140.1" y2="191.5" stroke="#CBC79C" stroke-width="1.6"/><text x="141.1" y="190.6" font-size="3.25" fill="#4a4a4a">FA(LA), AUC = 0.583,</text><text x="141.1" y="193.8" font-size="3.25" fill="#4a4a4a">p < 0.001</text><line x1="133.1" y1="198.95" x2="140.1" y2="198.95" stroke="#723584" stroke-width="1.6"/><text x="141.1" y="198.05" font-size="3.25" fill="#4a4a4a">CBF(LA), AUC = 0.904,</text><text x="141.1" y="201.25" font-size="3.25" fill="#4a4a4a">p = 0.100</text><line x1="133.1" y1="206.4" x2="140.1" y2="206.4" stroke="#E9EB96" stroke-width="1.6"/><text x="141.1" y="205.5" font-size="3.25" fill="#4a4a4a">FA(Avr), AUC = 0.623,</text><text x="141.1" y="208.7" font-size="3.25" fill="#4a4a4a">p < 0.001</text><line x1="133.1" y1="213.85" x2="140.1" y2="213.85" stroke="#DC3C46" stroke-width="1.6"/><text x="141.1" y="212.95" font-size="3.25" fill="#4a4a4a">CBF(Avr), AUC = 0.924,</text><text x="141.1" y="216.15" font-size="3.25" fill="#4a4a4a">p < 0.001</text><line x1="133.1" y1="220" x2="140.1" y2="220" stroke="#5EBDB0" stroke-width="1.6"/><text x="141.1" y="221.2" font-size="3.25" fill="#4a4a4a">Reference Line</text></g>
<g><text x="197.2" y="159.8" font-size="10.2" fill="#222">f</text><text x="267" y="159.1" font-size="4.8" font-weight="bold" fill="#111" stroke="#111" stroke-width="0.12" text-anchor="middle" xml:space="preserve">ROC Curve (Prefrontal cortex, PFC)</text><rect x="209" y="169.2" width="89.3" height="89" fill="#dfdfdf"/><path d="M209 169.2H298.3" stroke="#3c3c3c" stroke-width="1.1"/><path d="M298.3 169.2V258.2" stroke="#606060" stroke-width="1.25"/><path d="M209 169.2V258.2H298.3" fill="none" stroke="#1a1a1a" stroke-width="1.1"/><g fill="none" stroke-width="1.9" stroke-linejoin="miter" stroke-linecap="butt"><polyline points="209,258.2 209,231.5 210.79,231.5 210.79,226.16 212.57,226.16 212.57,213.7 221.5,213.7 221.5,205.69 225.97,205.69 225.97,203.02 232.22,199.46 237.58,199.46 237.58,194.12 242.93,194.12 242.93,187 253.65,187 253.65,181.66 265.26,181.66 265.26,178.99 278.65,178.99 278.65,177.21 284.9,177.21 284.9,173.65 293.83,173.65 293.83,169.2 298.3,169.2" stroke="#3D56A6"/><polyline points="209,258.2 209,228.83 212.57,228.83 212.57,204.8 223.29,204.8 223.29,199.46 228.65,199.46 228.65,195.9 235.79,195.9 235.79,194.12 242.93,194.12 242.93,188.78 251.86,188.78 251.86,187 251.86,181.66 271.51,181.66 271.51,178.1 280.44,178.1 280.44,175.43 289.37,175.43 289.37,170.98 295.62,170.98 295.62,169.2 298.3,169.2" stroke="#44A85A"/><polyline points="209,258.2 209,226.16 212.57,226.16 212.57,201.24 221.5,201.24 221.5,196.79 228.65,196.79 228.65,194.12 242.93,194.12 242.93,190.56 251.86,190.56 251.86,187 255.44,187 255.44,179.88 269.72,179.88 269.72,170.98 275.98,170.98 275.98,169.2 298.3,169.2" stroke="#CBC79C"/><polyline points="209,258.2 209,229.72 212.57,229.72 212.57,206.58 223.29,206.58 223.29,204.8 228.65,204.8 228.65,195.9 235.79,195.9 235.79,190.56 244.72,190.56 244.72,181.66 253.65,181.66 265.26,181.66 265.26,179.88 277.76,179.88 277.76,177.21 287.58,177.21 287.58,172.76 293.83,172.76 293.83,169.2 298.3,169.2" stroke="#723584"/><polyline points="209,258.2 209,225.27 212.57,225.27 212.57,207.47 221.5,207.47 221.5,203.02 226.86,203.02 226.86,197.68 232.22,197.68 232.22,194.12 238.47,194.12 238.47,188.78 244.72,188.78 244.72,183.44 253.65,183.44 253.65,178.1 260.79,178.1 260.79,170.98 267.94,170.98 267.94,169.2 298.3,169.2" stroke="#E9EB96"/><polyline points="209,258.2 209,231.5 212.57,231.5 212.57,204.8 223.29,204.8 223.29,202.13 228.65,202.13 228.65,195.01 237.58,195.01 237.58,194.12 241.15,194.12 241.15,191.45 244.72,191.45 244.72,183.44 253.65,183.44 253.65,180.77 277.76,180.77 277.76,175.43 284.9,175.43 284.9,173.65 291.16,173.65 291.16,170.98 296.51,170.98 296.51,169.2 298.3,169.2" stroke="#DC3C46"/><line x1="209" y1="258.2" x2="298.3" y2="169.2" stroke="#5EBDB0"/></g><path d="M209 258.2v2.8M209 258.2h-2.8" stroke="#111" stroke-width="1.35"/><text x="209" y="265.8" font-size="3.5" fill="#2a2a2a" stroke="#2a2a2a" stroke-width="0.1" text-anchor="middle">0.0</text><text x="205.1" y="259.55" font-size="3.5" fill="#2a2a2a" stroke="#2a2a2a" stroke-width="0.1" text-anchor="end">0.0</text><path d="M226.86 258.2v2.8M209 240.4h-2.8" stroke="#111" stroke-width="1.35"/><text x="226.86" y="265.8" font-size="3.5" fill="#2a2a2a" stroke="#2a2a2a" stroke-width="0.1" text-anchor="middle">0.2</text><text x="205.1" y="241.75" font-size="3.5" fill="#2a2a2a" stroke="#2a2a2a" stroke-width="0.1" text-anchor="end">0.2</text><path d="M244.72 258.2v2.8M209 222.6h-2.8" stroke="#111" stroke-width="1.35"/><text x="244.72" y="265.8" font-size="3.5" fill="#2a2a2a" stroke="#2a2a2a" stroke-width="0.1" text-anchor="middle">0.4</text><text x="205.1" y="223.95" font-size="3.5" fill="#2a2a2a" stroke="#2a2a2a" stroke-width="0.1" text-anchor="end">0.4</text><path d="M262.58 258.2v2.8M209 204.8h-2.8" stroke="#111" stroke-width="1.35"/><text x="262.58" y="265.8" font-size="3.5" fill="#2a2a2a" stroke="#2a2a2a" stroke-width="0.1" text-anchor="middle">0.6</text><text x="205.1" y="206.15" font-size="3.5" fill="#2a2a2a" stroke="#2a2a2a" stroke-width="0.1" text-anchor="end">0.6</text><path d="M280.44 258.2v2.8M209 187h-2.8" stroke="#111" stroke-width="1.35"/><text x="280.44" y="265.8" font-size="3.5" fill="#2a2a2a" stroke="#2a2a2a" stroke-width="0.1" text-anchor="middle">0.8</text><text x="205.1" y="188.35" font-size="3.5" fill="#2a2a2a" stroke="#2a2a2a" stroke-width="0.1" text-anchor="end">0.8</text><path d="M298.3 258.2v2.8M209 169.2h-2.8" stroke="#111" stroke-width="1.35"/><text x="298.3" y="265.8" font-size="3.5" fill="#2a2a2a" stroke="#2a2a2a" stroke-width="0.1" text-anchor="middle">1.0</text><text x="205.1" y="170.55" font-size="3.5" fill="#2a2a2a" stroke="#2a2a2a" stroke-width="0.1" text-anchor="end">1.0</text><text x="253.65" y="272.8" font-size="4.65" font-weight="bold" fill="#111" stroke="#111" stroke-width="0.18" text-anchor="middle">1 - Specificity</text><text transform="translate(196.9 213.7) rotate(-90)" font-size="4.6" font-weight="bold" fill="#111" stroke="#111" stroke-width="0.18" text-anchor="middle">Sensitivity</text><text x="304.3" y="174.3" font-size="3.84" font-weight="bold" fill="#111" stroke="#111" stroke-width="0.1">Source of the Curve</text><line x1="301.1" y1="178.2" x2="308.1" y2="178.2" stroke="#3D56A6" stroke-width="1.6"/><text x="309.1" y="177.3" font-size="3.25" fill="#4a4a4a">FA(MM), AUC = 0.795,</text><text x="309.1" y="180.5" font-size="3.25" fill="#4a4a4a">p < 0.001</text><line x1="301.1" y1="185.65" x2="308.1" y2="185.65" stroke="#44A85A" stroke-width="1.6"/><text x="309.1" y="184.75" font-size="3.25" fill="#4a4a4a">CBF(MM), AUC = 0.882,</text><text x="309.1" y="187.95" font-size="3.25" fill="#4a4a4a">p < 0.001</text><line x1="301.1" y1="193.1" x2="308.1" y2="193.1" stroke="#CBC79C" stroke-width="1.6"/><text x="309.1" y="192.2" font-size="3.25" fill="#4a4a4a">FA(LA), AUC = 0.892,</text><text x="309.1" y="195.4" font-size="3.25" fill="#4a4a4a">p = 0.653</text><line x1="301.1" y1="200.55" x2="308.1" y2="200.55" stroke="#723584" stroke-width="1.6"/><text x="309.1" y="199.65" font-size="3.25" fill="#4a4a4a">CBF(LA), AUC = 0.901,</text><text x="309.1" y="202.85" font-size="3.25" fill="#4a4a4a">p = 0.399</text><line x1="301.1" y1="208" x2="308.1" y2="208" stroke="#E9EB96" stroke-width="1.6"/><text x="309.1" y="207.1" font-size="3.25" fill="#4a4a4a">FA(Avr), AUC = 0.721,</text><text x="309.1" y="210.3" font-size="3.25" fill="#4a4a4a">p < 0.001</text><line x1="301.1" y1="215.45" x2="308.1" y2="215.45" stroke="#DC3C46" stroke-width="1.6"/><text x="309.1" y="214.55" font-size="3.25" fill="#4a4a4a">CBF(Avr), AUC = 0.599,</text><text x="309.1" y="217.75" font-size="3.25" fill="#4a4a4a">p < 0.001</text><line x1="301.1" y1="221.6" x2="308.1" y2="221.6" stroke="#5EBDB0" stroke-width="1.6"/><text x="309.1" y="222.8" font-size="3.25" fill="#4a4a4a">Reference Line</text></g>
<g><text x="367.2" y="158" font-size="10.2" fill="#222">g</text><text x="435.6" y="159.2" font-size="4.8" font-weight="bold" fill="#111" stroke="#111" stroke-width="0.12" text-anchor="middle" xml:space="preserve">ROC Curve (Frontal white matter, FWM)</text><rect x="377.6" y="169.3" width="89.4" height="89.4" fill="#dfdfdf"/><path d="M377.6 169.3H467" stroke="#3c3c3c" stroke-width="1.1"/><path d="M467 169.3V258.7" stroke="#606060" stroke-width="1.25"/><path d="M377.6 169.3V258.7H467" fill="none" stroke="#1a1a1a" stroke-width="1.1"/><g fill="none" stroke-width="1.9" stroke-linejoin="miter" stroke-linecap="butt"><polyline points="377.6,258.7 377.6,222.94 380.28,222.94 380.28,221.15 388.33,221.15 395.48,218.47 399.95,214 408,214 408,210.42 422.3,210.42 422.3,208.64 431.24,208.64 431.24,198.8 434.82,198.8 434.82,189.86 459.85,189.86 459.85,181.82 462.53,181.82 462.53,173.77 467,173.77 467,169.3" stroke="#3D56A6"/><polyline points="377.6,258.7 377.6,214.89 381.18,214.89 381.18,199.7 385.65,199.7 385.65,194.33 410.68,194.33 410.68,182.71 426.77,182.71 426.77,180.03 434.82,180.03 434.82,170.19 450.91,170.19 450.91,169.3 467,169.3" stroke="#44A85A"/><polyline points="377.6,258.7 378.49,258.7 378.49,233.67 382.07,233.67 382.07,222.94 393.69,222.94 393.69,214.89 397.27,214.89 397.27,210.42 401.74,210.42 401.74,204.17 408,204.17 408,203.27 421.41,203.27 421.41,196.12 431.24,196.12 431.24,185.39 435.71,185.39 435.71,181.82 459.85,181.82 459.85,170.19 467,170.19 467,169.3" stroke="#CBC79C"/><polyline points="377.6,258.7 377.6,224.73 380.28,224.73 380.28,205.95 385.65,205.95 385.65,196.12 398.16,196.12 398.16,194.33 409.78,194.33 409.78,188.07 425.88,188.07 425.88,180.03 433.03,180.03 433.03,174.66 434.82,174.66 434.82,170.19 449.12,170.19 449.12,169.3 467,169.3" stroke="#723584"/><polyline points="377.6,258.7 379.39,258.7 379.39,231.88 380.28,231.88 380.28,224.73 386.54,224.73 386.54,222.94 395.48,222.94 395.48,218.47 404.42,218.47 404.42,212.21 413.36,212.21 413.36,205.06 422.3,205.06 422.3,199.7 431.24,199.7 431.24,196.12 435.71,196.12 435.71,181.82 465.21,181.82 465.21,176.45 467,176.45 467,169.3" stroke="#E9EB96"/><polyline points="377.6,258.7 377.6,219.36 381.18,219.36 381.18,205.06 385.65,205.06 385.65,197.91 406.21,197.91 406.21,188.07 410.68,188.07 410.68,181.82 426.77,181.82 426.77,179.13 431.24,179.13 431.24,175.56 434.82,175.56 434.82,170.19 449.12,170.19 449.12,169.3 467,169.3" stroke="#DC3C46"/><line x1="377.6" y1="258.7" x2="467" y2="169.3" stroke="#5EBDB0"/></g><path d="M377.6 258.7v2.8M377.6 258.7h-2.8" stroke="#111" stroke-width="1.35"/><text x="377.6" y="266.3" font-size="3.5" fill="#2a2a2a" stroke="#2a2a2a" stroke-width="0.1" text-anchor="middle">0.0</text><text x="373.7" y="260.05" font-size="3.5" fill="#2a2a2a" stroke="#2a2a2a" stroke-width="0.1" text-anchor="end">0.0</text><path d="M395.48 258.7v2.8M377.6 240.82h-2.8" stroke="#111" stroke-width="1.35"/><text x="395.48" y="266.3" font-size="3.5" fill="#2a2a2a" stroke="#2a2a2a" stroke-width="0.1" text-anchor="middle">0.2</text><text x="373.7" y="242.17" font-size="3.5" fill="#2a2a2a" stroke="#2a2a2a" stroke-width="0.1" text-anchor="end">0.2</text><path d="M413.36 258.7v2.8M377.6 222.94h-2.8" stroke="#111" stroke-width="1.35"/><text x="413.36" y="266.3" font-size="3.5" fill="#2a2a2a" stroke="#2a2a2a" stroke-width="0.1" text-anchor="middle">0.4</text><text x="373.7" y="224.29" font-size="3.5" fill="#2a2a2a" stroke="#2a2a2a" stroke-width="0.1" text-anchor="end">0.4</text><path d="M431.24 258.7v2.8M377.6 205.06h-2.8" stroke="#111" stroke-width="1.35"/><text x="431.24" y="266.3" font-size="3.5" fill="#2a2a2a" stroke="#2a2a2a" stroke-width="0.1" text-anchor="middle">0.6</text><text x="373.7" y="206.41" font-size="3.5" fill="#2a2a2a" stroke="#2a2a2a" stroke-width="0.1" text-anchor="end">0.6</text><path d="M449.12 258.7v2.8M377.6 187.18h-2.8" stroke="#111" stroke-width="1.35"/><text x="449.12" y="266.3" font-size="3.5" fill="#2a2a2a" stroke="#2a2a2a" stroke-width="0.1" text-anchor="middle">0.8</text><text x="373.7" y="188.53" font-size="3.5" fill="#2a2a2a" stroke="#2a2a2a" stroke-width="0.1" text-anchor="end">0.8</text><path d="M467 258.7v2.8M377.6 169.3h-2.8" stroke="#111" stroke-width="1.35"/><text x="467" y="266.3" font-size="3.5" fill="#2a2a2a" stroke="#2a2a2a" stroke-width="0.1" text-anchor="middle">1.0</text><text x="373.7" y="170.65" font-size="3.5" fill="#2a2a2a" stroke="#2a2a2a" stroke-width="0.1" text-anchor="end">1.0</text><text x="422.3" y="273.3" font-size="4.65" font-weight="bold" fill="#111" stroke="#111" stroke-width="0.18" text-anchor="middle">1 - Specificity</text><text transform="translate(365.5 214) rotate(-90)" font-size="4.6" font-weight="bold" fill="#111" stroke="#111" stroke-width="0.18" text-anchor="middle">Sensitivity</text><text x="473" y="174.4" font-size="3.84" font-weight="bold" fill="#111" stroke="#111" stroke-width="0.1">Source of the Curve</text><line x1="469.8" y1="178.3" x2="476.8" y2="178.3" stroke="#3D56A6" stroke-width="1.6"/><text x="477.8" y="177.4" font-size="3.25" fill="#4a4a4a">FA(MM), AUC = 0.658,</text><text x="477.8" y="180.6" font-size="3.25" fill="#4a4a4a">p < 0.001</text><line x1="469.8" y1="185.75" x2="476.8" y2="185.75" stroke="#44A85A" stroke-width="1.6"/><text x="477.8" y="184.85" font-size="3.25" fill="#4a4a4a">CBF(MM), AUC = 0.673,</text><text x="477.8" y="188.05" font-size="3.25" fill="#4a4a4a">p = 0.608</text><line x1="469.8" y1="193.2" x2="476.8" y2="193.2" stroke="#CBC79C" stroke-width="1.6"/><text x="477.8" y="192.3" font-size="3.25" fill="#4a4a4a">FA(LA), AUC = 0.913,</text><text x="477.8" y="195.5" font-size="3.25" fill="#4a4a4a">p < 0.001</text><line x1="469.8" y1="200.65" x2="476.8" y2="200.65" stroke="#723584" stroke-width="1.6"/><text x="477.8" y="199.75" font-size="3.25" fill="#4a4a4a">CBF(LA), AUC = 0.535,</text><text x="477.8" y="202.95" font-size="3.25" fill="#4a4a4a">p < 0.001</text><line x1="469.8" y1="208.1" x2="476.8" y2="208.1" stroke="#E9EB96" stroke-width="1.6"/><text x="477.8" y="207.2" font-size="3.25" fill="#4a4a4a">FA(Avr), AUC = 0.693,</text><text x="477.8" y="210.4" font-size="3.25" fill="#4a4a4a">p < 0.001</text><line x1="469.8" y1="215.55" x2="476.8" y2="215.55" stroke="#DC3C46" stroke-width="1.6"/><text x="477.8" y="214.65" font-size="3.25" fill="#4a4a4a">CBF(Avr), AUC = 0.909,</text><text x="477.8" y="217.85" font-size="3.25" fill="#4a4a4a">p = 0.696</text><line x1="469.8" y1="221.7" x2="476.8" y2="221.7" stroke="#5EBDB0" stroke-width="1.6"/><text x="477.8" y="222.9" font-size="3.25" fill="#4a4a4a">Reference Line</text></g>
<g><text x="534.5" y="159.8" font-size="10.2" fill="#222">h</text><text x="603.4" y="158.8" font-size="4.8" font-weight="bold" fill="#111" stroke="#111" stroke-width="0.12" text-anchor="middle" xml:space="preserve">ROC  Curve (Temporal white matter, TWM)</text><rect x="545.4" y="168.9" width="89.4" height="89.2" fill="#dfdfdf"/><path d="M545.4 168.9H634.8" stroke="#3c3c3c" stroke-width="1.1"/><path d="M634.8 168.9V258.1" stroke="#606060" stroke-width="1.25"/><path d="M545.4 168.9V258.1H634.8" fill="none" stroke="#1a1a1a" stroke-width="1.1"/><g fill="none" stroke-width="1.9" stroke-linejoin="miter" stroke-linecap="butt"><polyline points="545.4,258.1 547.19,258.1 547.19,249.18 550.76,249.18 550.76,231.34 554.34,231.34 554.34,217.96 559.7,217.96 559.7,210.82 582.95,210.82 582.95,203.69 590.1,203.69 590.1,192.98 590.1,189.42 599.04,189.42 613.34,189.42 613.34,184.96 618.71,184.96 618.71,181.39 625.86,181.39 625.86,177.82 634.8,177.82 634.8,168.9" stroke="#3D56A6"/><polyline points="545.4,258.1 547.19,258.1 547.19,253.64 548.98,253.64 548.98,242.04 554.34,242.04 554.34,218.85 557.92,218.85 557.92,206.36 565.07,206.36 565.07,202.8 570.43,202.8 570.43,199.23 578.48,199.23 578.48,195.66 586.52,195.66 586.52,186.74 590.1,186.74 590.1,175.14 618.71,175.14 618.71,173.36 627.65,173.36 627.65,170.68 632.12,170.68 632.12,168.9 634.8,168.9" stroke="#44A85A"/><polyline points="545.4,258.1 547.19,258.1 547.19,244.72 549.87,244.72 549.87,222.42 554.34,222.42 554.34,217.96 561.49,217.96 561.49,210.82 574.01,210.82 574.01,206.36 581.16,206.36 581.16,195.66 590.1,195.66 590.1,186.74 599.04,186.74 599.04,184.06 616.92,184.06 616.92,177.82 630.33,177.82 630.33,172.47 634.8,172.47 634.8,168.9" stroke="#CBC79C"/><polyline points="545.4,258.1 547.19,258.1 547.19,250.96 551.66,250.96 551.66,214.39 559.7,214.39 559.7,210.82 566.86,210.82 566.86,204.58 576.69,204.58 576.69,201.01 585.63,201.01 585.63,193.88 590.1,193.88 590.1,185.85 602.62,185.85 602.62,181.39 618.71,181.39 618.71,176.04 627.65,176.04 627.65,174.25 634.8,174.25 634.8,168.9" stroke="#723584"/><polyline points="545.4,258.1 545.4,244.72 548.08,244.72 548.08,222.42 552.55,222.42 552.55,216.18 557.92,216.18 557.92,209.04 565.07,209.04 565.07,204.58 572.22,204.58 572.22,199.23 579.37,199.23 579.37,193.88 586.52,193.88 586.52,188.52 594.57,188.52 594.57,183.17 607.98,183.17 607.98,179.6 616.92,179.6 616.92,175.14 634.8,175.14 634.8,173.36 634.8,168.9" stroke="#E9EB96"/><polyline points="545.4,258.1 547.19,258.1 547.19,253.64 548.98,253.64 548.98,242.04 554.34,242.04 554.34,218.85 557.92,218.85 557.92,206.36 565.07,206.36 565.07,198.34 569.54,198.34 569.54,195.66 578.48,195.66 578.48,192.09 582.95,192.09 582.95,189.42 586.52,189.42 586.52,184.06 590.1,184.06 590.1,178.71 602.62,178.71 602.62,176.93 618.71,176.93 618.71,173.36 626.75,173.36 626.75,168.9 634.8,168.9" stroke="#DC3C46"/><line x1="545.4" y1="258.1" x2="634.8" y2="168.9" stroke="#5EBDB0"/></g><path d="M545.4 258.1v2.8M545.4 258.1h-2.8" stroke="#111" stroke-width="1.35"/><text x="545.4" y="265.7" font-size="3.5" fill="#2a2a2a" stroke="#2a2a2a" stroke-width="0.1" text-anchor="middle">0.0</text><text x="541.5" y="259.45" font-size="3.5" fill="#2a2a2a" stroke="#2a2a2a" stroke-width="0.1" text-anchor="end">0.0</text><path d="M563.28 258.1v2.8M545.4 240.26h-2.8" stroke="#111" stroke-width="1.35"/><text x="563.28" y="265.7" font-size="3.5" fill="#2a2a2a" stroke="#2a2a2a" stroke-width="0.1" text-anchor="middle">0.2</text><text x="541.5" y="241.61" font-size="3.5" fill="#2a2a2a" stroke="#2a2a2a" stroke-width="0.1" text-anchor="end">0.2</text><path d="M581.16 258.1v2.8M545.4 222.42h-2.8" stroke="#111" stroke-width="1.35"/><text x="581.16" y="265.7" font-size="3.5" fill="#2a2a2a" stroke="#2a2a2a" stroke-width="0.1" text-anchor="middle">0.4</text><text x="541.5" y="223.77" font-size="3.5" fill="#2a2a2a" stroke="#2a2a2a" stroke-width="0.1" text-anchor="end">0.4</text><path d="M599.04 258.1v2.8M545.4 204.58h-2.8" stroke="#111" stroke-width="1.35"/><text x="599.04" y="265.7" font-size="3.5" fill="#2a2a2a" stroke="#2a2a2a" stroke-width="0.1" text-anchor="middle">0.6</text><text x="541.5" y="205.93" font-size="3.5" fill="#2a2a2a" stroke="#2a2a2a" stroke-width="0.1" text-anchor="end">0.6</text><path d="M616.92 258.1v2.8M545.4 186.74h-2.8" stroke="#111" stroke-width="1.35"/><text x="616.92" y="265.7" font-size="3.5" fill="#2a2a2a" stroke="#2a2a2a" stroke-width="0.1" text-anchor="middle">0.8</text><text x="541.5" y="188.09" font-size="3.5" fill="#2a2a2a" stroke="#2a2a2a" stroke-width="0.1" text-anchor="end">0.8</text><path d="M634.8 258.1v2.8M545.4 168.9h-2.8" stroke="#111" stroke-width="1.35"/><text x="634.8" y="265.7" font-size="3.5" fill="#2a2a2a" stroke="#2a2a2a" stroke-width="0.1" text-anchor="middle">1.0</text><text x="541.5" y="170.25" font-size="3.5" fill="#2a2a2a" stroke="#2a2a2a" stroke-width="0.1" text-anchor="end">1.0</text><text x="590.1" y="272.7" font-size="4.65" font-weight="bold" fill="#111" stroke="#111" stroke-width="0.18" text-anchor="middle">1 - Specificity</text><text transform="translate(533.3 213.5) rotate(-90)" font-size="4.6" font-weight="bold" fill="#111" stroke="#111" stroke-width="0.18" text-anchor="middle">Sensitivity</text><text x="640.8" y="174" font-size="3.84" font-weight="bold" fill="#111" stroke="#111" stroke-width="0.1">Source of the Curve</text><line x1="637.6" y1="177.9" x2="644.6" y2="177.9" stroke="#3D56A6" stroke-width="1.6"/><text x="645.6" y="177" font-size="3.25" fill="#4a4a4a">FA(MM), AUC = 0.591,</text><text x="645.6" y="180.2" font-size="3.25" fill="#4a4a4a">p = 0.506</text><line x1="637.6" y1="185.35" x2="644.6" y2="185.35" stroke="#44A85A" stroke-width="1.6"/><text x="645.6" y="184.45" font-size="3.25" fill="#4a4a4a">CBF(MM), AUC = 0.717,</text><text x="645.6" y="187.65" font-size="3.25" fill="#4a4a4a">p < 0.001</text><line x1="637.6" y1="192.8" x2="644.6" y2="192.8" stroke="#CBC79C" stroke-width="1.6"/><text x="645.6" y="191.9" font-size="3.25" fill="#4a4a4a">FA(LA), AUC = 0.535,</text><text x="645.6" y="195.1" font-size="3.25" fill="#4a4a4a">p < 0.001</text><line x1="637.6" y1="200.25" x2="644.6" y2="200.25" stroke="#723584" stroke-width="1.6"/><text x="645.6" y="199.35" font-size="3.25" fill="#4a4a4a">CBF(LA), AUC = 0.946,</text><text x="645.6" y="202.55" font-size="3.25" fill="#4a4a4a">p < 0.001</text><line x1="637.6" y1="207.7" x2="644.6" y2="207.7" stroke="#E9EB96" stroke-width="1.6"/><text x="645.6" y="206.8" font-size="3.25" fill="#4a4a4a">FA(Avr), AUC = 0.795,</text><text x="645.6" y="210" font-size="3.25" fill="#4a4a4a">p < 0.001</text><line x1="637.6" y1="215.15" x2="644.6" y2="215.15" stroke="#DC3C46" stroke-width="1.6"/><text x="645.6" y="214.25" font-size="3.25" fill="#4a4a4a">CBF(Avr), AUC = 0.745,</text><text x="645.6" y="217.45" font-size="3.25" fill="#4a4a4a">p = 0.337</text><line x1="637.6" y1="221.3" x2="644.6" y2="221.3" stroke="#5EBDB0" stroke-width="1.6"/><text x="645.6" y="222.5" font-size="3.25" fill="#4a4a4a">Reference Line</text></g>
<g><text x="32.6" y="297" font-size="10.2" fill="#222">i</text><text x="98.6" y="296.5" font-size="4.8" font-weight="bold" fill="#111" stroke="#111" stroke-width="0.12" text-anchor="middle" xml:space="preserve">ROC Curve (Occipital white matter, OWM)</text><rect x="40.6" y="306.6" width="89.7" height="89" fill="#dfdfdf"/><path d="M40.6 306.6H130.3" stroke="#3c3c3c" stroke-width="1.1"/><path d="M130.3 306.6V395.6" stroke="#606060" stroke-width="1.25"/><path d="M40.6 306.6V395.6H130.3" fill="none" stroke="#1a1a1a" stroke-width="1.1"/><g fill="none" stroke-width="1.9" stroke-linejoin="miter" stroke-linecap="butt"><polyline points="40.6,395.6 40.6,373.35 53.16,373.35 53.16,370.68 56.75,370.68 56.75,364.45 63.03,362.67 72.89,361.78 76.48,361.78 76.48,356.44 80.07,356.44 80.07,351.99 85.45,351.99 85.45,341.31 89.94,341.31 89.94,331.52 94.42,331.52 94.42,326.18 101.6,326.18 101.6,324.4 112.36,324.4 112.36,315.5 116.84,315.5 116.84,309.27 127.61,309.27 127.61,306.6 130.3,306.6" stroke="#3D56A6"/><polyline points="40.6,395.6 40.6,359.11 45.09,359.11 45.09,352.88 51.36,352.88 51.36,350.21 56.75,350.21 56.75,346.65 60.33,346.65 60.33,342.2 64.82,342.2 64.82,337.75 72.89,337.75 72.89,328.85 81.86,328.85 81.86,327.96 89.94,327.96 89.94,324.4 93.52,324.4 93.52,318.17 101.6,318.17 101.6,310.16 112.36,310.16 112.36,309.27 114.15,309.27 114.15,306.6 130.3,306.6" stroke="#44A85A"/><polyline points="40.6,395.6 40.6,367.12 52.26,367.12 52.26,362.67 58.54,362.67 58.54,351.1 64.82,351.1 64.82,348.43 72,348.43 72,346.65 77.38,346.65 77.38,337.75 88.14,337.75 89.94,337.75 89.94,326.18 94.42,326.18 94.42,320.84 103.39,320.84 103.39,315.5 116.84,315.5 116.84,309.27 130.3,309.27 130.3,306.6" stroke="#CBC79C"/><polyline points="40.6,395.6 40.6,365.34 45.09,365.34 45.09,357.33 53.16,357.33 53.16,355.55 56.75,355.55 56.75,346.65 64.82,346.65 64.82,337.75 72.89,337.75 72.89,325.29 80.97,325.29 80.97,317.28 89.94,317.28 93.52,317.28 93.52,314.61 111.46,314.61 111.46,310.16 114.15,310.16 114.15,306.6 130.3,306.6" stroke="#723584"/><polyline points="40.6,395.6 40.6,371.57 44.19,371.57 44.19,368.9 51.36,368.9 51.36,366.23 56.75,366.23 56.75,359.11 74.69,359.11 74.69,348.43 80.97,348.43 80.97,339.53 88.14,339.53 88.14,325.29 94.42,325.29 94.42,321.73 101.6,321.73 101.6,319.06 112.36,319.06 112.36,312.83 125.81,312.83 125.81,309.27 130.3,309.27 130.3,306.6" stroke="#E9EB96"/><polyline points="40.6,395.6 40.6,360.89 45.09,360.89 45.09,352.88 56.75,352.88 56.75,346.65 60.33,346.65 60.33,342.2 64.82,342.2 64.82,337.75 72.89,337.75 72.89,328.85 80.97,328.85 80.97,320.84 89.94,320.84 89.94,317.28 93.52,317.28 93.52,314.61 101.6,314.61 101.6,312.83 109.67,312.83 109.67,309.27 113.26,309.27 113.26,306.6 130.3,306.6" stroke="#DC3C46"/><line x1="40.6" y1="395.6" x2="130.3" y2="306.6" stroke="#5EBDB0"/></g><path d="M40.6 395.6v2.8M40.6 395.6h-2.8" stroke="#111" stroke-width="1.35"/><text x="40.6" y="403.2" font-size="3.5" fill="#2a2a2a" stroke="#2a2a2a" stroke-width="0.1" text-anchor="middle">0.0</text><text x="36.7" y="396.95" font-size="3.5" fill="#2a2a2a" stroke="#2a2a2a" stroke-width="0.1" text-anchor="end">0.0</text><path d="M58.54 395.6v2.8M40.6 377.8h-2.8" stroke="#111" stroke-width="1.35"/><text x="58.54" y="403.2" font-size="3.5" fill="#2a2a2a" stroke="#2a2a2a" stroke-width="0.1" text-anchor="middle">0.2</text><text x="36.7" y="379.15" font-size="3.5" fill="#2a2a2a" stroke="#2a2a2a" stroke-width="0.1" text-anchor="end">0.2</text><path d="M76.48 395.6v2.8M40.6 360h-2.8" stroke="#111" stroke-width="1.35"/><text x="76.48" y="403.2" font-size="3.5" fill="#2a2a2a" stroke="#2a2a2a" stroke-width="0.1" text-anchor="middle">0.4</text><text x="36.7" y="361.35" font-size="3.5" fill="#2a2a2a" stroke="#2a2a2a" stroke-width="0.1" text-anchor="end">0.4</text><path d="M94.42 395.6v2.8M40.6 342.2h-2.8" stroke="#111" stroke-width="1.35"/><text x="94.42" y="403.2" font-size="3.5" fill="#2a2a2a" stroke="#2a2a2a" stroke-width="0.1" text-anchor="middle">0.6</text><text x="36.7" y="343.55" font-size="3.5" fill="#2a2a2a" stroke="#2a2a2a" stroke-width="0.1" text-anchor="end">0.6</text><path d="M112.36 395.6v2.8M40.6 324.4h-2.8" stroke="#111" stroke-width="1.35"/><text x="112.36" y="403.2" font-size="3.5" fill="#2a2a2a" stroke="#2a2a2a" stroke-width="0.1" text-anchor="middle">0.8</text><text x="36.7" y="325.75" font-size="3.5" fill="#2a2a2a" stroke="#2a2a2a" stroke-width="0.1" text-anchor="end">0.8</text><path d="M130.3 395.6v2.8M40.6 306.6h-2.8" stroke="#111" stroke-width="1.35"/><text x="130.3" y="403.2" font-size="3.5" fill="#2a2a2a" stroke="#2a2a2a" stroke-width="0.1" text-anchor="middle">1.0</text><text x="36.7" y="307.95" font-size="3.5" fill="#2a2a2a" stroke="#2a2a2a" stroke-width="0.1" text-anchor="end">1.0</text><text x="85.45" y="410.2" font-size="4.65" font-weight="bold" fill="#111" stroke="#111" stroke-width="0.18" text-anchor="middle">1 - Specificity</text><text transform="translate(28.5 351.1) rotate(-90)" font-size="4.6" font-weight="bold" fill="#111" stroke="#111" stroke-width="0.18" text-anchor="middle">Sensitivity</text><text x="136.3" y="311.7" font-size="3.84" font-weight="bold" fill="#111" stroke="#111" stroke-width="0.1">Source of the Curve</text><line x1="133.1" y1="315.6" x2="140.1" y2="315.6" stroke="#3D56A6" stroke-width="1.6"/><text x="141.1" y="314.7" font-size="3.25" fill="#4a4a4a">FA(MM), AUC = 0.896,</text><text x="141.1" y="317.9" font-size="3.25" fill="#4a4a4a">p = 0.846</text><line x1="133.1" y1="323.05" x2="140.1" y2="323.05" stroke="#44A85A" stroke-width="1.6"/><text x="141.1" y="322.15" font-size="3.25" fill="#4a4a4a">CBF(MM), AUC = 0.820,</text><text x="141.1" y="325.35" font-size="3.25" fill="#4a4a4a">p = 0.344</text><line x1="133.1" y1="330.5" x2="140.1" y2="330.5" stroke="#CBC79C" stroke-width="1.6"/><text x="141.1" y="329.6" font-size="3.25" fill="#4a4a4a">FA(LA), AUC = 0.611,</text><text x="141.1" y="332.8" font-size="3.25" fill="#4a4a4a">p < 0.001</text><line x1="133.1" y1="337.95" x2="140.1" y2="337.95" stroke="#723584" stroke-width="1.6"/><text x="141.1" y="337.05" font-size="3.25" fill="#4a4a4a">CBF(LA), AUC = 0.749,</text><text x="141.1" y="340.25" font-size="3.25" fill="#4a4a4a">p = 0.269</text><line x1="133.1" y1="345.4" x2="140.1" y2="345.4" stroke="#E9EB96" stroke-width="1.6"/><text x="141.1" y="344.5" font-size="3.25" fill="#4a4a4a">FA(Avr), AUC = 0.905,</text><text x="141.1" y="347.7" font-size="3.25" fill="#4a4a4a">p < 0.001</text><line x1="133.1" y1="352.85" x2="140.1" y2="352.85" stroke="#DC3C46" stroke-width="1.6"/><text x="141.1" y="351.95" font-size="3.25" fill="#4a4a4a">CBF(Avr), AUC = 0.686,</text><text x="141.1" y="355.15" font-size="3.25" fill="#4a4a4a">p < 0.001</text><line x1="133.1" y1="359" x2="140.1" y2="359" stroke="#5EBDB0" stroke-width="1.6"/><text x="141.1" y="360.2" font-size="3.25" fill="#4a4a4a">Reference Line</text></g>
<g><text x="198.9" y="297.7" font-size="10.2" fill="#222">j</text><text x="267.4" y="297.2" font-size="4.8" font-weight="bold" fill="#111" stroke="#111" stroke-width="0.12" text-anchor="middle" xml:space="preserve">ROC Curve (Parietal white matter, PWM)</text><rect x="209.4" y="307.3" width="88.7" height="89" fill="#dfdfdf"/><path d="M209.4 307.3H298.1" stroke="#3c3c3c" stroke-width="1.1"/><path d="M298.1 307.3V396.3" stroke="#606060" stroke-width="1.25"/><path d="M209.4 307.3V396.3H298.1" fill="none" stroke="#1a1a1a" stroke-width="1.1"/><g fill="none" stroke-width="1.9" stroke-linejoin="miter" stroke-linecap="butt"><polyline points="209.4,396.3 209.4,363.37 215.61,363.37 218.27,363.37 218.27,356.25 225.37,356.25 231.58,349.13 236.9,344.68 249.31,344.68 249.31,334.89 250.2,334.89 250.2,332.22 257.3,332.22 257.3,319.76 264.39,319.76 264.39,313.53 271.49,313.53 271.49,309.97 280.36,309.97 280.36,307.3 298.1,307.3" stroke="#3D56A6"/><polyline points="209.4,396.3 209.4,344.68 212.95,344.68 212.95,336.67 220.93,336.67 220.93,334 225.37,334 225.37,332.22 229.8,332.22 229.8,324.21 242.22,324.21 242.22,321.54 244.88,321.54 244.88,316.2 249.31,316.2 249.31,309.08 253.75,309.08 253.75,307.3 298.1,307.3" stroke="#44A85A"/><polyline points="209.4,396.3 209.4,358.92 217.38,358.92 217.38,344.68 222.71,344.68 222.71,342.9 227.14,342.9 227.14,340.23 231.58,340.23 231.58,331.33 234.24,331.33 234.24,327.77 249.31,327.77 249.31,319.76 258.19,319.76 258.19,313.53 269.72,313.53 269.72,309.08 286.57,309.08 286.57,307.3 298.1,307.3" stroke="#CBC79C"/><polyline points="209.4,396.3 209.4,355.36 212.95,355.36 212.95,341.12 218.27,341.12 218.27,338.45 229.8,338.45 229.8,331.33 232.46,331.33 232.46,329.55 242.22,329.55 242.22,323.32 245.77,323.32 245.77,320.65 249.31,320.65 249.31,312.64 258.19,312.64 258.19,311.75 269.72,311.75 269.72,309.08 274.15,309.08 274.15,307.3 298.1,307.3" stroke="#723584"/><polyline points="209.4,396.3 209.4,363.37 217.38,363.37 217.38,352.69 227.14,352.69 227.14,347.35 230.69,347.35 230.69,340.23 236.01,340.23 236.01,335.78 248.43,335.78 248.43,330.44 250.2,330.44 250.2,323.32 258.19,323.32 258.19,316.2 264.39,316.2 264.39,310.86 271.49,310.86 271.49,307.3 298.1,307.3" stroke="#E9EB96"/><polyline points="209.4,396.3 209.4,352.69 212.95,352.69 212.95,340.23 220.93,340.23 220.93,334 225.37,334 225.37,332.22 229.8,332.22 229.8,321.54 242.22,321.54 242.22,319.76 249.31,319.76 249.31,312.64 253.75,312.64 253.75,310.86 258.19,310.86 258.19,309.08 266.17,309.08 266.17,307.3 298.1,307.3" stroke="#DC3C46"/><line x1="209.4" y1="396.3" x2="298.1" y2="307.3" stroke="#5EBDB0"/></g><path d="M209.4 396.3v2.8M209.4 396.3h-2.8" stroke="#111" stroke-width="1.35"/><text x="209.4" y="403.9" font-size="3.5" fill="#2a2a2a" stroke="#2a2a2a" stroke-width="0.1" text-anchor="middle">0.0</text><text x="205.5" y="397.65" font-size="3.5" fill="#2a2a2a" stroke="#2a2a2a" stroke-width="0.1" text-anchor="end">0.0</text><path d="M227.14 396.3v2.8M209.4 378.5h-2.8" stroke="#111" stroke-width="1.35"/><text x="227.14" y="403.9" font-size="3.5" fill="#2a2a2a" stroke="#2a2a2a" stroke-width="0.1" text-anchor="middle">0.2</text><text x="205.5" y="379.85" font-size="3.5" fill="#2a2a2a" stroke="#2a2a2a" stroke-width="0.1" text-anchor="end">0.2</text><path d="M244.88 396.3v2.8M209.4 360.7h-2.8" stroke="#111" stroke-width="1.35"/><text x="244.88" y="403.9" font-size="3.5" fill="#2a2a2a" stroke="#2a2a2a" stroke-width="0.1" text-anchor="middle">0.4</text><text x="205.5" y="362.05" font-size="3.5" fill="#2a2a2a" stroke="#2a2a2a" stroke-width="0.1" text-anchor="end">0.4</text><path d="M262.62 396.3v2.8M209.4 342.9h-2.8" stroke="#111" stroke-width="1.35"/><text x="262.62" y="403.9" font-size="3.5" fill="#2a2a2a" stroke="#2a2a2a" stroke-width="0.1" text-anchor="middle">0.6</text><text x="205.5" y="344.25" font-size="3.5" fill="#2a2a2a" stroke="#2a2a2a" stroke-width="0.1" text-anchor="end">0.6</text><path d="M280.36 396.3v2.8M209.4 325.1h-2.8" stroke="#111" stroke-width="1.35"/><text x="280.36" y="403.9" font-size="3.5" fill="#2a2a2a" stroke="#2a2a2a" stroke-width="0.1" text-anchor="middle">0.8</text><text x="205.5" y="326.45" font-size="3.5" fill="#2a2a2a" stroke="#2a2a2a" stroke-width="0.1" text-anchor="end">0.8</text><path d="M298.1 396.3v2.8M209.4 307.3h-2.8" stroke="#111" stroke-width="1.35"/><text x="298.1" y="403.9" font-size="3.5" fill="#2a2a2a" stroke="#2a2a2a" stroke-width="0.1" text-anchor="middle">1.0</text><text x="205.5" y="308.65" font-size="3.5" fill="#2a2a2a" stroke="#2a2a2a" stroke-width="0.1" text-anchor="end">1.0</text><text x="253.75" y="410.9" font-size="4.65" font-weight="bold" fill="#111" stroke="#111" stroke-width="0.18" text-anchor="middle">1 - Specificity</text><text transform="translate(197.3 351.8) rotate(-90)" font-size="4.6" font-weight="bold" fill="#111" stroke="#111" stroke-width="0.18" text-anchor="middle">Sensitivity</text><text x="304.1" y="312.4" font-size="3.84" font-weight="bold" fill="#111" stroke="#111" stroke-width="0.1">Source of the Curve</text><line x1="300.9" y1="316.3" x2="307.9" y2="316.3" stroke="#3D56A6" stroke-width="1.6"/><text x="308.9" y="315.4" font-size="3.25" fill="#4a4a4a">FA(MM), AUC = 0.790,</text><text x="308.9" y="318.6" font-size="3.25" fill="#4a4a4a">p = 0.532</text><line x1="300.9" y1="323.75" x2="307.9" y2="323.75" stroke="#44A85A" stroke-width="1.6"/><text x="308.9" y="322.85" font-size="3.25" fill="#4a4a4a">CBF(MM), AUC = 0.843,</text><text x="308.9" y="326.05" font-size="3.25" fill="#4a4a4a">p = 0.216</text><line x1="300.9" y1="331.2" x2="307.9" y2="331.2" stroke="#CBC79C" stroke-width="1.6"/><text x="308.9" y="330.3" font-size="3.25" fill="#4a4a4a">FA(LA), AUC = 0.569,</text><text x="308.9" y="333.5" font-size="3.25" fill="#4a4a4a">p = 0.676</text><line x1="300.9" y1="338.65" x2="307.9" y2="338.65" stroke="#723584" stroke-width="1.6"/><text x="308.9" y="337.75" font-size="3.25" fill="#4a4a4a">CBF(LA), AUC = 0.774,</text><text x="308.9" y="340.95" font-size="3.25" fill="#4a4a4a">p < 0.001</text><line x1="300.9" y1="346.1" x2="307.9" y2="346.1" stroke="#E9EB96" stroke-width="1.6"/><text x="308.9" y="345.2" font-size="3.25" fill="#4a4a4a">FA(Avr), AUC = 0.630,</text><text x="308.9" y="348.4" font-size="3.25" fill="#4a4a4a">p < 0.001</text><line x1="300.9" y1="353.55" x2="307.9" y2="353.55" stroke="#DC3C46" stroke-width="1.6"/><text x="308.9" y="352.65" font-size="3.25" fill="#4a4a4a">CBF(Avr), AUC = 0.942,</text><text x="308.9" y="355.85" font-size="3.25" fill="#4a4a4a">p < 0.001</text><line x1="300.9" y1="359.7" x2="307.9" y2="359.7" stroke="#5EBDB0" stroke-width="1.6"/><text x="308.9" y="360.9" font-size="3.25" fill="#4a4a4a">Reference Line</text></g>
<g><text x="364.5" y="297.1" font-size="10.2" fill="#222">k</text><text x="436.3" y="296" font-size="4.8" font-weight="bold" fill="#111" stroke="#111" stroke-width="0.12" text-anchor="middle" xml:space="preserve">ROC Curve (Fiber number, FN)</text><rect x="378.3" y="306.1" width="89.4" height="89.2" fill="#dfdfdf"/><path d="M378.3 306.1H467.7" stroke="#3c3c3c" stroke-width="1.1"/><path d="M467.7 306.1V395.3" stroke="#606060" stroke-width="1.25"/><path d="M378.3 306.1V395.3H467.7" fill="none" stroke="#1a1a1a" stroke-width="1.1"/><g fill="none" stroke-width="1.9" stroke-linejoin="miter" stroke-linecap="butt"><polyline points="378.3,395.3 378.3,368.54 386.35,368.54 386.35,346.24 397.97,346.24 397.97,341.78 399.76,341.78 399.76,339.1 402.44,339.1 402.44,335.54 408.7,335.54 408.7,324.83 414.95,324.83 414.95,316.8 423.89,316.8 427.47,316.8 427.47,309.67 435.52,309.67 435.52,306.1 467.7,306.1" stroke="#3D56A6"/><polyline points="378.3,395.3 378.3,374.78 387.24,374.78 387.24,353.38 398.86,353.38 398.86,340.89 406.91,340.89 406.91,328.4 414.95,328.4 414.95,318.59 423,318.59 423,312.34 435.52,312.34 435.52,308.78 448.03,308.78 448.03,306.1 467.7,306.1" stroke="#44A85A"/><polyline points="378.3,395.3 378.3,371.22 386.35,371.22 386.35,350.7 397.97,350.7 397.97,348.92 398.42,348.92 398.42,335.54 402.44,335.54 402.44,329.29 407.8,329.29 407.8,320.37 414.95,320.37 414.95,318.59 423,318.59 423,310.56 427.47,310.56 427.47,308.78 448.03,308.78 448.03,306.1 467.7,306.1" stroke="#CBC79C"/><line x1="378.3" y1="395.3" x2="467.7" y2="306.1" stroke="#7C287D"/></g><path d="M378.3 395.3v2.8M378.3 395.3h-2.8" stroke="#111" stroke-width="1.35"/><text x="378.3" y="402.9" font-size="3.5" fill="#2a2a2a" stroke="#2a2a2a" stroke-width="0.1" text-anchor="middle">0.0</text><text x="374.4" y="396.65" font-size="3.5" fill="#2a2a2a" stroke="#2a2a2a" stroke-width="0.1" text-anchor="end">0.0</text><path d="M396.18 395.3v2.8M378.3 377.46h-2.8" stroke="#111" stroke-width="1.35"/><text x="396.18" y="402.9" font-size="3.5" fill="#2a2a2a" stroke="#2a2a2a" stroke-width="0.1" text-anchor="middle">0.2</text><text x="374.4" y="378.81" font-size="3.5" fill="#2a2a2a" stroke="#2a2a2a" stroke-width="0.1" text-anchor="end">0.2</text><path d="M414.06 395.3v2.8M378.3 359.62h-2.8" stroke="#111" stroke-width="1.35"/><text x="414.06" y="402.9" font-size="3.5" fill="#2a2a2a" stroke="#2a2a2a" stroke-width="0.1" text-anchor="middle">0.4</text><text x="374.4" y="360.97" font-size="3.5" fill="#2a2a2a" stroke="#2a2a2a" stroke-width="0.1" text-anchor="end">0.4</text><path d="M431.94 395.3v2.8M378.3 341.78h-2.8" stroke="#111" stroke-width="1.35"/><text x="431.94" y="402.9" font-size="3.5" fill="#2a2a2a" stroke="#2a2a2a" stroke-width="0.1" text-anchor="middle">0.6</text><text x="374.4" y="343.13" font-size="3.5" fill="#2a2a2a" stroke="#2a2a2a" stroke-width="0.1" text-anchor="end">0.6</text><path d="M449.82 395.3v2.8M378.3 323.94h-2.8" stroke="#111" stroke-width="1.35"/><text x="449.82" y="402.9" font-size="3.5" fill="#2a2a2a" stroke="#2a2a2a" stroke-width="0.1" text-anchor="middle">0.8</text><text x="374.4" y="325.29" font-size="3.5" fill="#2a2a2a" stroke="#2a2a2a" stroke-width="0.1" text-anchor="end">0.8</text><path d="M467.7 395.3v2.8M378.3 306.1h-2.8" stroke="#111" stroke-width="1.35"/><text x="467.7" y="402.9" font-size="3.5" fill="#2a2a2a" stroke="#2a2a2a" stroke-width="0.1" text-anchor="middle">1.0</text><text x="374.4" y="307.45" font-size="3.5" fill="#2a2a2a" stroke="#2a2a2a" stroke-width="0.1" text-anchor="end">1.0</text><text x="423" y="409.9" font-size="4.65" font-weight="bold" fill="#111" stroke="#111" stroke-width="0.18" text-anchor="middle">1 - Specificity</text><text transform="translate(366.2 350.7) rotate(-90)" font-size="4.6" font-weight="bold" fill="#111" stroke="#111" stroke-width="0.18" text-anchor="middle">Sensitivity</text><text x="473.7" y="311.2" font-size="3.84" font-weight="bold" fill="#111" stroke="#111" stroke-width="0.1">Source of the Curve</text><line x1="470.5" y1="315.1" x2="477.5" y2="315.1" stroke="#3D56A6" stroke-width="1.6"/><text x="478.5" y="314.2" font-size="3.25" fill="#4a4a4a">FN-SN(MM), AUC = 0.536,</text><text x="478.5" y="317.4" font-size="3.25" fill="#4a4a4a">p < 0.001</text><line x1="470.5" y1="322.55" x2="477.5" y2="322.55" stroke="#44A85A" stroke-width="1.6"/><text x="478.5" y="321.65" font-size="3.25" fill="#4a4a4a">FN-SN(LA), AUC = 0.687,</text><text x="478.5" y="324.85" font-size="3.25" fill="#4a4a4a">p = 0.038</text><line x1="470.5" y1="330" x2="477.5" y2="330" stroke="#CBC79C" stroke-width="1.6"/><text x="478.5" y="329.1" font-size="3.25" fill="#4a4a4a">FN-SN(Av), AUC = 0.564,</text><text x="478.5" y="332.3" font-size="3.25" fill="#4a4a4a">p < 0.001</text><line x1="470.5" y1="336.15" x2="477.5" y2="336.15" stroke="#7C287D" stroke-width="1.6"/><text x="478.5" y="337.35" font-size="3.25" fill="#4a4a4a">Reference Line</text></g>
<g><text x="26.6" y="460.9" font-size="10.2" fill="#222">a</text><text x="100" y="460.2" font-size="4.8" font-weight="bold" fill="#111" stroke="#111" stroke-width="0.12" text-anchor="middle" xml:space="preserve">ROC Curve (Substantia nigra, SN)</text><rect x="42" y="470.3" width="89.3" height="89.4" fill="#dfdfdf"/><path d="M42 470.3H131.3" stroke="#3c3c3c" stroke-width="1.1"/><path d="M131.3 470.3V559.7" stroke="#606060" stroke-width="1.25"/><path d="M42 470.3V559.7H131.3" fill="none" stroke="#1a1a1a" stroke-width="1.1"/><g fill="none" stroke-width="1.9" stroke-linejoin="miter" stroke-linecap="butt"><polyline points="42,559.7 42,538.69 44.68,538.69 44.68,518.58 45.57,518.58 45.57,504.27 48.07,504.27 48.07,488.18 50.93,488.18 50.93,486.39 52.72,479.24 52.72,470.3 131.3,470.3" stroke="#3D56A6"/><polyline points="42,559.7 42,547.18 58.07,547.18 58.07,539.14 67,539.14 67,530.2 74.15,530.2 74.15,525.73 84.86,525.73 86.65,525.73 86.65,510.53 91.12,510.53 91.12,504.27 115.23,504.27 115.23,500.7 118.8,500.7 118.8,488.18 122.37,488.18 122.37,474.77 127.73,474.77 127.73,470.3 131.3,470.3" stroke="#44A85A"/><polyline points="42,559.7 42,546.29 43.79,546.29 43.79,541.82 46.47,519.47 50.93,483.71 52.72,470.3 131.3,470.3" stroke="#CBC79C"/><polyline points="42,559.7 42,547.18 53.61,547.18 53.61,533.77 78.61,533.77 78.61,512.32 86.65,512.32 86.65,507.85 115.23,507.85 115.23,500.7 118.8,500.7 118.8,487.29 123.26,487.29 123.26,474.77 127.73,474.77 127.73,470.3 131.3,470.3" stroke="#723584"/><polyline points="42,559.7 42,550.76 42.89,550.76 42.89,543.61 49.59,470.3 131.3,470.3" stroke="#E9EB96"/><polyline points="42,559.7 42,547.18 66.11,547.18 66.11,542.71 74.15,542.71 74.15,529.3 86.65,529.3 86.65,504.27 91.12,504.27 99.15,504.27 99.15,496.23 115.23,496.23 115.23,491.76 123.26,491.76 123.26,474.77 127.73,474.77 127.73,470.3 131.3,470.3" stroke="#DC3C46"/><line x1="42" y1="559.7" x2="131.3" y2="470.3" stroke="#5EBDB0"/></g><path d="M42 559.7v2.8M42 559.7h-2.8" stroke="#111" stroke-width="1.35"/><text x="42" y="567.3" font-size="3.5" fill="#2a2a2a" stroke="#2a2a2a" stroke-width="0.1" text-anchor="middle">0.0</text><text x="38.1" y="561.05" font-size="3.5" fill="#2a2a2a" stroke="#2a2a2a" stroke-width="0.1" text-anchor="end">0.0</text><path d="M59.86 559.7v2.8M42 541.82h-2.8" stroke="#111" stroke-width="1.35"/><text x="59.86" y="567.3" font-size="3.5" fill="#2a2a2a" stroke="#2a2a2a" stroke-width="0.1" text-anchor="middle">0.2</text><text x="38.1" y="543.17" font-size="3.5" fill="#2a2a2a" stroke="#2a2a2a" stroke-width="0.1" text-anchor="end">0.2</text><path d="M77.72 559.7v2.8M42 523.94h-2.8" stroke="#111" stroke-width="1.35"/><text x="77.72" y="567.3" font-size="3.5" fill="#2a2a2a" stroke="#2a2a2a" stroke-width="0.1" text-anchor="middle">0.4</text><text x="38.1" y="525.29" font-size="3.5" fill="#2a2a2a" stroke="#2a2a2a" stroke-width="0.1" text-anchor="end">0.4</text><path d="M95.58 559.7v2.8M42 506.06h-2.8" stroke="#111" stroke-width="1.35"/><text x="95.58" y="567.3" font-size="3.5" fill="#2a2a2a" stroke="#2a2a2a" stroke-width="0.1" text-anchor="middle">0.6</text><text x="38.1" y="507.41" font-size="3.5" fill="#2a2a2a" stroke="#2a2a2a" stroke-width="0.1" text-anchor="end">0.6</text><path d="M113.44 559.7v2.8M42 488.18h-2.8" stroke="#111" stroke-width="1.35"/><text x="113.44" y="567.3" font-size="3.5" fill="#2a2a2a" stroke="#2a2a2a" stroke-width="0.1" text-anchor="middle">0.8</text><text x="38.1" y="489.53" font-size="3.5" fill="#2a2a2a" stroke="#2a2a2a" stroke-width="0.1" text-anchor="end">0.8</text><path d="M131.3 559.7v2.8M42 470.3h-2.8" stroke="#111" stroke-width="1.35"/><text x="131.3" y="567.3" font-size="3.5" fill="#2a2a2a" stroke="#2a2a2a" stroke-width="0.1" text-anchor="middle">1.0</text><text x="38.1" y="471.65" font-size="3.5" fill="#2a2a2a" stroke="#2a2a2a" stroke-width="0.1" text-anchor="end">1.0</text><text x="86.65" y="574.3" font-size="4.65" font-weight="bold" fill="#111" stroke="#111" stroke-width="0.18" text-anchor="middle">1 - Specificity</text><text transform="translate(29.9 515) rotate(-90)" font-size="4.6" font-weight="bold" fill="#111" stroke="#111" stroke-width="0.18" text-anchor="middle">Sensitivity</text><text x="137.3" y="475.4" font-size="3.84" font-weight="bold" fill="#111" stroke="#111" stroke-width="0.1">Source of the Curve</text><line x1="134.1" y1="479.3" x2="141.1" y2="479.3" stroke="#3D56A6" stroke-width="1.6"/><text x="142.1" y="478.4" font-size="3.25" fill="#4a4a4a">FA(MM), AUC = 0.904,</text><text x="142.1" y="481.6" font-size="3.25" fill="#4a4a4a">p = 0.812</text><line x1="134.1" y1="486.75" x2="141.1" y2="486.75" stroke="#44A85A" stroke-width="1.6"/><text x="142.1" y="485.85" font-size="3.25" fill="#4a4a4a">CBF(MM), AUC = 0.560,</text><text x="142.1" y="489.05" font-size="3.25" fill="#4a4a4a">p < 0.001</text><line x1="134.1" y1="494.2" x2="141.1" y2="494.2" stroke="#CBC79C" stroke-width="1.6"/><text x="142.1" y="493.3" font-size="3.25" fill="#4a4a4a">FA(LA), AUC = 0.661,</text><text x="142.1" y="496.5" font-size="3.25" fill="#4a4a4a">p = 0.201</text><line x1="134.1" y1="501.65" x2="141.1" y2="501.65" stroke="#723584" stroke-width="1.6"/><text x="142.1" y="500.75" font-size="3.25" fill="#4a4a4a">CBF(LA), AUC = 0.544,</text><text x="142.1" y="503.95" font-size="3.25" fill="#4a4a4a">p < 0.001</text><line x1="134.1" y1="509.1" x2="141.1" y2="509.1" stroke="#E9EB96" stroke-width="1.6"/><text x="142.1" y="508.2" font-size="3.25" fill="#4a4a4a">FA(Avr), AUC = 0.884,</text><text x="142.1" y="511.4" font-size="3.25" fill="#4a4a4a">p = 0.519</text><line x1="134.1" y1="516.55" x2="141.1" y2="516.55" stroke="#DC3C46" stroke-width="1.6"/><text x="142.1" y="515.65" font-size="3.25" fill="#4a4a4a">CBF(Avr), AUC = 0.760,</text><text x="142.1" y="518.85" font-size="3.25" fill="#4a4a4a">p < 0.001</text><line x1="134.1" y1="522.7" x2="141.1" y2="522.7" stroke="#5EBDB0" stroke-width="1.6"/><text x="142.1" y="523.9" font-size="3.25" fill="#4a4a4a">Reference Line</text></g>
<g><text x="196.7" y="462.7" font-size="10.2" fill="#222">b</text><text x="266.3" y="459.5" font-size="4.8" font-weight="bold" fill="#111" stroke="#111" stroke-width="0.12" text-anchor="middle" xml:space="preserve">ROC Curve (Caudate nucleus, Cau)</text><rect x="208.3" y="469.6" width="89.4" height="89.7" fill="#dfdfdf"/><path d="M208.3 469.6H297.7" stroke="#3c3c3c" stroke-width="1.1"/><path d="M297.7 469.6V559.3" stroke="#606060" stroke-width="1.25"/><path d="M208.3 469.6V559.3H297.7" fill="none" stroke="#1a1a1a" stroke-width="1.1"/><g fill="none" stroke-width="1.9" stroke-linejoin="miter" stroke-linecap="butt"><polyline points="208.3,559.3 208.3,550.33 216.35,550.33 216.35,542.26 221.71,542.26 221.71,532.39 226.18,532.39 226.18,523.42 236.91,523.42 236.91,508.17 253,508.17 253,499.2 256.58,499.2 256.58,496.51 260.15,496.51 260.15,491.13 268.2,491.13 268.2,489.33 270.88,489.33 270.88,486.64 275.35,486.64 275.35,483.06 279.82,483.06 279.82,478.57 295.02,478.57 295.02,474.09 297.7,474.09 297.7,469.6" stroke="#3D56A6"/><polyline points="208.3,559.3 208.3,554.82 217.24,554.82 217.24,545.85 225.29,545.85 225.29,503.69 228.86,503.69 228.86,499.2 233.33,499.2 233.33,495.61 236.91,495.61 236.91,482.16 244.95,482.16 244.95,478.57 277.14,478.57 277.14,475.88 295.02,475.88 295.02,469.6 297.7,469.6" stroke="#44A85A"/><polyline points="208.3,559.3 208.3,556.61 220.82,556.61 220.82,553.92 220.82,529.7 236.91,529.7 244.06,529.7 244.06,511.76 260.15,511.76 261.94,511.76 261.94,494.72 269.09,494.72 269.09,487.54 278.03,487.54 278.03,471.39 290.55,471.39 290.55,469.6 297.7,469.6" stroke="#CBC79C"/><polyline points="208.3,559.3 208.3,545.85 216.35,545.85 216.35,533.29 226.18,533.29 226.18,520.73 233.33,520.73 233.33,516.24 236.91,516.24 236.91,511.76 244.95,511.76 244.95,490.23 249.42,490.23 249.42,487.54 258.36,487.54 258.36,483.06 273.56,483.06 273.56,480.36 277.14,480.36 277.14,478.57 297.7,478.57 297.7,469.6" stroke="#723584"/><polyline points="208.3,559.3 208.3,554.82 217.24,554.82 217.24,541.36 221.71,541.36 221.71,529.7 236.91,529.7 236.91,520.73 253,520.73 253,518.94 260.15,518.94 260.15,483.06 270.88,483.06 270.88,478.57 277.14,478.57 277.14,471.39 278.03,471.39 278.03,469.6 297.7,469.6" stroke="#E9EB96"/><polyline points="208.3,559.3 208.3,554.82 217.24,554.82 217.24,532.39 225.29,532.39 225.29,507.27 233.33,507.27 233.33,499.2 236.91,499.2 236.91,486.64 257.47,486.64 257.47,478.57 273.56,478.57 273.56,474.09 294.12,474.09 294.12,469.6 297.7,469.6" stroke="#DC3C46"/><line x1="208.3" y1="559.3" x2="297.7" y2="469.6" stroke="#5EBDB0"/></g><path d="M208.3 559.3v2.8M208.3 559.3h-2.8" stroke="#111" stroke-width="1.35"/><text x="208.3" y="566.9" font-size="3.5" fill="#2a2a2a" stroke="#2a2a2a" stroke-width="0.1" text-anchor="middle">0.0</text><text x="204.4" y="560.65" font-size="3.5" fill="#2a2a2a" stroke="#2a2a2a" stroke-width="0.1" text-anchor="end">0.0</text><path d="M226.18 559.3v2.8M208.3 541.36h-2.8" stroke="#111" stroke-width="1.35"/><text x="226.18" y="566.9" font-size="3.5" fill="#2a2a2a" stroke="#2a2a2a" stroke-width="0.1" text-anchor="middle">0.2</text><text x="204.4" y="542.71" font-size="3.5" fill="#2a2a2a" stroke="#2a2a2a" stroke-width="0.1" text-anchor="end">0.2</text><path d="M244.06 559.3v2.8M208.3 523.42h-2.8" stroke="#111" stroke-width="1.35"/><text x="244.06" y="566.9" font-size="3.5" fill="#2a2a2a" stroke="#2a2a2a" stroke-width="0.1" text-anchor="middle">0.4</text><text x="204.4" y="524.77" font-size="3.5" fill="#2a2a2a" stroke="#2a2a2a" stroke-width="0.1" text-anchor="end">0.4</text><path d="M261.94 559.3v2.8M208.3 505.48h-2.8" stroke="#111" stroke-width="1.35"/><text x="261.94" y="566.9" font-size="3.5" fill="#2a2a2a" stroke="#2a2a2a" stroke-width="0.1" text-anchor="middle">0.6</text><text x="204.4" y="506.83" font-size="3.5" fill="#2a2a2a" stroke="#2a2a2a" stroke-width="0.1" text-anchor="end">0.6</text><path d="M279.82 559.3v2.8M208.3 487.54h-2.8" stroke="#111" stroke-width="1.35"/><text x="279.82" y="566.9" font-size="3.5" fill="#2a2a2a" stroke="#2a2a2a" stroke-width="0.1" text-anchor="middle">0.8</text><text x="204.4" y="488.89" font-size="3.5" fill="#2a2a2a" stroke="#2a2a2a" stroke-width="0.1" text-anchor="end">0.8</text><path d="M297.7 559.3v2.8M208.3 469.6h-2.8" stroke="#111" stroke-width="1.35"/><text x="297.7" y="566.9" font-size="3.5" fill="#2a2a2a" stroke="#2a2a2a" stroke-width="0.1" text-anchor="middle">1.0</text><text x="204.4" y="470.95" font-size="3.5" fill="#2a2a2a" stroke="#2a2a2a" stroke-width="0.1" text-anchor="end">1.0</text><text x="253" y="573.9" font-size="4.65" font-weight="bold" fill="#111" stroke="#111" stroke-width="0.18" text-anchor="middle">1 - Specificity</text><text transform="translate(196.2 514.45) rotate(-90)" font-size="4.6" font-weight="bold" fill="#111" stroke="#111" stroke-width="0.18" text-anchor="middle">Sensitivity</text><text x="303.7" y="474.7" font-size="3.84" font-weight="bold" fill="#111" stroke="#111" stroke-width="0.1">Source of the Curve</text><line x1="300.5" y1="478.6" x2="307.5" y2="478.6" stroke="#3D56A6" stroke-width="1.6"/><text x="308.5" y="477.7" font-size="3.25" fill="#4a4a4a">FA(MM), AUC = 0.522,</text><text x="308.5" y="480.9" font-size="3.25" fill="#4a4a4a">p < 0.001</text><line x1="300.5" y1="486.05" x2="307.5" y2="486.05" stroke="#44A85A" stroke-width="1.6"/><text x="308.5" y="485.15" font-size="3.25" fill="#4a4a4a">CBF(MM), AUC = 0.807,</text><text x="308.5" y="488.35" font-size="3.25" fill="#4a4a4a">p < 0.001</text><line x1="300.5" y1="493.5" x2="307.5" y2="493.5" stroke="#CBC79C" stroke-width="1.6"/><text x="308.5" y="492.6" font-size="3.25" fill="#4a4a4a">FA(LA), AUC = 0.854,</text><text x="308.5" y="495.8" font-size="3.25" fill="#4a4a4a">p < 0.001</text><line x1="300.5" y1="500.95" x2="307.5" y2="500.95" stroke="#723584" stroke-width="1.6"/><text x="308.5" y="500.05" font-size="3.25" fill="#4a4a4a">CBF(LA), AUC = 0.552,</text><text x="308.5" y="503.25" font-size="3.25" fill="#4a4a4a">p = 0.206</text><line x1="300.5" y1="508.4" x2="307.5" y2="508.4" stroke="#E9EB96" stroke-width="1.6"/><text x="308.5" y="507.5" font-size="3.25" fill="#4a4a4a">FA(Avr), AUC = 0.684,</text><text x="308.5" y="510.7" font-size="3.25" fill="#4a4a4a">p < 0.001</text><line x1="300.5" y1="515.85" x2="307.5" y2="515.85" stroke="#DC3C46" stroke-width="1.6"/><text x="308.5" y="514.95" font-size="3.25" fill="#4a4a4a">CBF(Avr), AUC = 0.883,</text><text x="308.5" y="518.15" font-size="3.25" fill="#4a4a4a">p < 0.001</text><line x1="300.5" y1="522" x2="307.5" y2="522" stroke="#5EBDB0" stroke-width="1.6"/><text x="308.5" y="523.2" font-size="3.25" fill="#4a4a4a">Reference Line</text></g>
<g><text x="365.3" y="460.9" font-size="10.2" fill="#222">c</text><text x="437" y="459.5" font-size="4.8" font-weight="bold" fill="#111" stroke="#111" stroke-width="0.12" text-anchor="middle" xml:space="preserve">ROC Curve (Globus pallidus, Gp)</text><rect x="379" y="469.6" width="89" height="89.1" fill="#dfdfdf"/><path d="M379 469.6H468" stroke="#3c3c3c" stroke-width="1.1"/><path d="M468 469.6V558.7" stroke="#606060" stroke-width="1.25"/><path d="M379 469.6V558.7H468" fill="none" stroke="#1a1a1a" stroke-width="1.1"/><g fill="none" stroke-width="1.9" stroke-linejoin="miter" stroke-linecap="butt"><polyline points="379,558.7 388.79,548.9 388.79,541.77 395.02,541.77 395.02,531.08 400.36,531.08 400.36,524.84 415.49,524.84 415.49,515.93 419.05,515.93 419.05,511.48 436.85,511.48 436.85,509.7 441.3,509.7 441.3,496.33 448.42,496.33 448.42,489.2 451.98,489.2 451.98,477.62 468,477.62 468,469.6" stroke="#3D56A6"/><polyline points="379,558.7 379,512.37 390.57,512.37 390.57,511.48 398.58,511.48 398.58,507.91 406.59,507.91 406.59,505.24 419.05,505.24 419.05,500.79 421.72,500.79 421.72,491.88 432.4,491.88 432.4,490.98 443.08,490.98 443.08,483.86 447.53,483.86 447.53,474.06 463.55,474.06 463.55,469.6 468,469.6" stroke="#44A85A"/><polyline points="379,558.7 379,524.84 395.02,524.84 395.02,518.61 398.58,518.61 398.58,511.48 415.49,511.48 415.49,507.91 436.85,507.91 436.85,499.89 447.53,499.89 447.53,489.2 451.98,489.2 451.98,482.97 457.32,482.97 457.32,474.06 463.55,474.06 463.55,469.6 468,469.6" stroke="#CBC79C"/><polyline points="379,558.7 379,511.48 390.57,511.48 390.57,503.46 415.49,503.46 415.49,494.55 419.05,494.55 419.05,490.98 432.4,490.98 432.4,482.97 439.52,482.97 439.52,478.51 447.53,478.51 447.53,469.6 468,469.6" stroke="#723584"/><polyline points="379,558.7 380.78,558.7 380.78,541.77 389.68,541.77 389.68,536.43 395.02,536.43 395.02,527.52 398.58,527.52 398.58,516.82 403.03,516.82 403.03,509.7 410.15,509.7 410.15,503.46 419.05,503.46 419.05,499.89 434.18,499.89 434.18,490.98 443.08,490.98 443.08,487.42 454.65,487.42 454.65,480.29 463.55,480.29 463.55,474.06 468,474.06 468,469.6" stroke="#E9EB96"/><polyline points="379,558.7 379,520.39 398.58,520.39 398.58,507.91 415.49,507.91 415.49,499 419.05,499 419.05,490.98 432.4,490.98 432.4,478.51 439.52,478.51 439.52,473.16 447.53,473.16 447.53,469.6 468,469.6" stroke="#DC3C46"/><line x1="379" y1="558.7" x2="468" y2="469.6" stroke="#5EBDB0"/></g><path d="M379 558.7v2.8M379 558.7h-2.8" stroke="#111" stroke-width="1.35"/><text x="379" y="566.3" font-size="3.5" fill="#2a2a2a" stroke="#2a2a2a" stroke-width="0.1" text-anchor="middle">0.0</text><text x="375.1" y="560.05" font-size="3.5" fill="#2a2a2a" stroke="#2a2a2a" stroke-width="0.1" text-anchor="end">0.0</text><path d="M396.8 558.7v2.8M379 540.88h-2.8" stroke="#111" stroke-width="1.35"/><text x="396.8" y="566.3" font-size="3.5" fill="#2a2a2a" stroke="#2a2a2a" stroke-width="0.1" text-anchor="middle">0.2</text><text x="375.1" y="542.23" font-size="3.5" fill="#2a2a2a" stroke="#2a2a2a" stroke-width="0.1" text-anchor="end">0.2</text><path d="M414.6 558.7v2.8M379 523.06h-2.8" stroke="#111" stroke-width="1.35"/><text x="414.6" y="566.3" font-size="3.5" fill="#2a2a2a" stroke="#2a2a2a" stroke-width="0.1" text-anchor="middle">0.4</text><text x="375.1" y="524.41" font-size="3.5" fill="#2a2a2a" stroke="#2a2a2a" stroke-width="0.1" text-anchor="end">0.4</text><path d="M432.4 558.7v2.8M379 505.24h-2.8" stroke="#111" stroke-width="1.35"/><text x="432.4" y="566.3" font-size="3.5" fill="#2a2a2a" stroke="#2a2a2a" stroke-width="0.1" text-anchor="middle">0.6</text><text x="375.1" y="506.59" font-size="3.5" fill="#2a2a2a" stroke="#2a2a2a" stroke-width="0.1" text-anchor="end">0.6</text><path d="M450.2 558.7v2.8M379 487.42h-2.8" stroke="#111" stroke-width="1.35"/><text x="450.2" y="566.3" font-size="3.5" fill="#2a2a2a" stroke="#2a2a2a" stroke-width="0.1" text-anchor="middle">0.8</text><text x="375.1" y="488.77" font-size="3.5" fill="#2a2a2a" stroke="#2a2a2a" stroke-width="0.1" text-anchor="end">0.8</text><path d="M468 558.7v2.8M379 469.6h-2.8" stroke="#111" stroke-width="1.35"/><text x="468" y="566.3" font-size="3.5" fill="#2a2a2a" stroke="#2a2a2a" stroke-width="0.1" text-anchor="middle">1.0</text><text x="375.1" y="470.95" font-size="3.5" fill="#2a2a2a" stroke="#2a2a2a" stroke-width="0.1" text-anchor="end">1.0</text><text x="423.5" y="573.3" font-size="4.65" font-weight="bold" fill="#111" stroke="#111" stroke-width="0.18" text-anchor="middle">1 - Specificity</text><text transform="translate(366.9 514.15) rotate(-90)" font-size="4.6" font-weight="bold" fill="#111" stroke="#111" stroke-width="0.18" text-anchor="middle">Sensitivity</text><text x="474" y="474.7" font-size="3.84" font-weight="bold" fill="#111" stroke="#111" stroke-width="0.1">Source of the Curve</text><line x1="470.8" y1="478.6" x2="477.8" y2="478.6" stroke="#3D56A6" stroke-width="1.6"/><text x="478.8" y="477.7" font-size="3.25" fill="#4a4a4a">FA(MM), AUC = 0.909,</text><text x="478.8" y="480.9" font-size="3.25" fill="#4a4a4a">p < 0.001</text><line x1="470.8" y1="486.05" x2="477.8" y2="486.05" stroke="#44A85A" stroke-width="1.6"/><text x="478.8" y="485.15" font-size="3.25" fill="#4a4a4a">CBF(MM), AUC = 0.556,</text><text x="478.8" y="488.35" font-size="3.25" fill="#4a4a4a">p < 0.001</text><line x1="470.8" y1="493.5" x2="477.8" y2="493.5" stroke="#CBC79C" stroke-width="1.6"/><text x="478.8" y="492.6" font-size="3.25" fill="#4a4a4a">FA(LA), AUC = 0.618,</text><text x="478.8" y="495.8" font-size="3.25" fill="#4a4a4a">p = 0.288</text><line x1="470.8" y1="500.95" x2="477.8" y2="500.95" stroke="#723584" stroke-width="1.6"/><text x="478.8" y="500.05" font-size="3.25" fill="#4a4a4a">CBF(LA), AUC = 0.891,</text><text x="478.8" y="503.25" font-size="3.25" fill="#4a4a4a">p < 0.001</text><line x1="470.8" y1="508.4" x2="477.8" y2="508.4" stroke="#E9EB96" stroke-width="1.6"/><text x="478.8" y="507.5" font-size="3.25" fill="#4a4a4a">FA(Avr), AUC = 0.731,</text><text x="478.8" y="510.7" font-size="3.25" fill="#4a4a4a">p < 0.001</text><line x1="470.8" y1="515.85" x2="477.8" y2="515.85" stroke="#DC3C46" stroke-width="1.6"/><text x="478.8" y="514.95" font-size="3.25" fill="#4a4a4a">CBF(Avr), AUC = 0.903,</text><text x="478.8" y="518.15" font-size="3.25" fill="#4a4a4a">p = 0.338</text><line x1="470.8" y1="522" x2="477.8" y2="522" stroke="#5EBDB0" stroke-width="1.6"/><text x="478.8" y="523.2" font-size="3.25" fill="#4a4a4a">Reference Line</text></g>
<g><text x="535.9" y="460.9" font-size="10.2" fill="#222">d</text><text x="606" y="459.5" font-size="4.8" font-weight="bold" fill="#111" stroke="#111" stroke-width="0.12" text-anchor="middle" xml:space="preserve">ROC Curve (Putamen, Pu)</text><rect x="548" y="469.6" width="89.3" height="89.1" fill="#dfdfdf"/><path d="M548 469.6H637.3" stroke="#3c3c3c" stroke-width="1.1"/><path d="M637.3 469.6V558.7" stroke="#606060" stroke-width="1.25"/><path d="M548 469.6V558.7H637.3" fill="none" stroke="#1a1a1a" stroke-width="1.1"/><g fill="none" stroke-width="1.9" stroke-linejoin="miter" stroke-linecap="butt"><polyline points="548,558.7 548,539.1 552.47,539.1 552.47,529.3 564.07,529.3 572.11,524.84 576.58,505.24 581.04,487.42 588.18,487.42 588.18,478.51 616.76,478.51 616.76,469.6 637.3,469.6" stroke="#3D56A6" stroke-dasharray="3 1.2"/><polyline points="548,558.7 548,540.88 553.36,540.88 553.36,531.97 556.04,531.97 556.04,521.28 559.61,521.28 559.61,499 577.47,499 577.47,494.55 581.93,494.55 581.93,488.31 584.61,488.31 584.61,485.64 597.12,485.64 597.12,482.97 601.58,482.97 601.58,480.29 637.3,480.29 637.3,476.73 637.3,469.6" stroke="#44A85A"/><polyline points="548,558.7 548,533.75 551.57,533.75 551.57,524.84 572.11,524.84 572.11,504.35 592.65,504.35 592.65,499.89 596.22,499.89 596.22,487.42 603.37,487.42 603.37,483.86 616.76,483.86 616.76,482.07 628.37,482.07 628.37,474.06 637.3,474.06 637.3,469.6" stroke="#CBC79C"/><polyline points="548,558.7 548,537.32 552.47,537.32 552.47,535.53 559.61,535.53 559.61,516.82 580.15,516.82 580.15,495.44 583.72,495.44 583.72,482.07 600.69,482.07 600.69,474.06 616.76,474.06 616.76,472.27 623.9,472.27 623.9,469.6 637.3,469.6" stroke="#723584"/><polyline points="548,558.7 548,533.75 555.14,533.75 555.14,531.97 561.39,531.97 561.39,524.84 570.33,524.84 570.33,521.28 572.11,521.28 572.11,505.24 576.58,505.24 576.58,499.89 581.93,499.89 581.93,491.88 590.86,491.88 590.86,489.2 601.58,489.2 601.58,482.07 614.98,482.07 614.98,478.51 619.44,478.51 619.44,474.06 626.58,474.06 626.58,469.6 637.3,469.6" stroke="#E9EB96"/><polyline points="548,558.7 548,542.66 556.04,542.66 556.04,532.86 559.61,532.86 559.61,495.44 579.25,495.44 579.25,491.88 581.93,491.88 581.93,489.2 584.61,489.2 584.61,486.53 597.12,486.53 597.12,482.07 600.69,482.07 600.69,478.51 624.8,478.51 624.8,474.06 637.3,474.06 637.3,473.16 637.3,469.6" stroke="#DC3C46"/><line x1="548" y1="558.7" x2="637.3" y2="469.6" stroke="#5EBDB0"/></g><path d="M548 558.7v2.8M548 558.7h-2.8" stroke="#111" stroke-width="1.35"/><text x="548" y="566.3" font-size="3.5" fill="#2a2a2a" stroke="#2a2a2a" stroke-width="0.1" text-anchor="middle">0.0</text><text x="544.1" y="560.05" font-size="3.5" fill="#2a2a2a" stroke="#2a2a2a" stroke-width="0.1" text-anchor="end">0.0</text><path d="M565.86 558.7v2.8M548 540.88h-2.8" stroke="#111" stroke-width="1.35"/><text x="565.86" y="566.3" font-size="3.5" fill="#2a2a2a" stroke="#2a2a2a" stroke-width="0.1" text-anchor="middle">0.2</text><text x="544.1" y="542.23" font-size="3.5" fill="#2a2a2a" stroke="#2a2a2a" stroke-width="0.1" text-anchor="end">0.2</text><path d="M583.72 558.7v2.8M548 523.06h-2.8" stroke="#111" stroke-width="1.35"/><text x="583.72" y="566.3" font-size="3.5" fill="#2a2a2a" stroke="#2a2a2a" stroke-width="0.1" text-anchor="middle">0.4</text><text x="544.1" y="524.41" font-size="3.5" fill="#2a2a2a" stroke="#2a2a2a" stroke-width="0.1" text-anchor="end">0.4</text><path d="M601.58 558.7v2.8M548 505.24h-2.8" stroke="#111" stroke-width="1.35"/><text x="601.58" y="566.3" font-size="3.5" fill="#2a2a2a" stroke="#2a2a2a" stroke-width="0.1" text-anchor="middle">0.6</text><text x="544.1" y="506.59" font-size="3.5" fill="#2a2a2a" stroke="#2a2a2a" stroke-width="0.1" text-anchor="end">0.6</text><path d="M619.44 558.7v2.8M548 487.42h-2.8" stroke="#111" stroke-width="1.35"/><text x="619.44" y="566.3" font-size="3.5" fill="#2a2a2a" stroke="#2a2a2a" stroke-width="0.1" text-anchor="middle">0.8</text><text x="544.1" y="488.77" font-size="3.5" fill="#2a2a2a" stroke="#2a2a2a" stroke-width="0.1" text-anchor="end">0.8</text><path d="M637.3 558.7v2.8M548 469.6h-2.8" stroke="#111" stroke-width="1.35"/><text x="637.3" y="566.3" font-size="3.5" fill="#2a2a2a" stroke="#2a2a2a" stroke-width="0.1" text-anchor="middle">1.0</text><text x="544.1" y="470.95" font-size="3.5" fill="#2a2a2a" stroke="#2a2a2a" stroke-width="0.1" text-anchor="end">1.0</text><text x="592.65" y="573.3" font-size="4.65" font-weight="bold" fill="#111" stroke="#111" stroke-width="0.18" text-anchor="middle">1 - Specificity</text><text transform="translate(535.9 514.15) rotate(-90)" font-size="4.6" font-weight="bold" fill="#111" stroke="#111" stroke-width="0.18" text-anchor="middle">Sensitivity</text><text x="643.3" y="474.7" font-size="3.84" font-weight="bold" fill="#111" stroke="#111" stroke-width="0.1">Source of the Curve</text><line x1="640.1" y1="478.6" x2="647.1" y2="478.6" stroke="#3D56A6" stroke-width="1.6"/><text x="648.1" y="477.7" font-size="3.25" fill="#4a4a4a">FA(MM), AUC = 0.594,</text><text x="648.1" y="480.9" font-size="3.25" fill="#4a4a4a">p = 0.547</text><line x1="640.1" y1="486.05" x2="647.1" y2="486.05" stroke="#44A85A" stroke-width="1.6"/><text x="648.1" y="485.15" font-size="3.25" fill="#4a4a4a">CBF(MM), AUC = 0.571,</text><text x="648.1" y="488.35" font-size="3.25" fill="#4a4a4a">p < 0.001</text><line x1="640.1" y1="493.5" x2="647.1" y2="493.5" stroke="#CBC79C" stroke-width="1.6"/><text x="648.1" y="492.6" font-size="3.25" fill="#4a4a4a">FA(LA), AUC = 0.649,</text><text x="648.1" y="495.8" font-size="3.25" fill="#4a4a4a">p = 0.425</text><line x1="640.1" y1="500.95" x2="647.1" y2="500.95" stroke="#723584" stroke-width="1.6"/><text x="648.1" y="500.05" font-size="3.25" fill="#4a4a4a">CBF(LA), AUC = 0.771,</text><text x="648.1" y="503.25" font-size="3.25" fill="#4a4a4a">p < 0.001</text><line x1="640.1" y1="508.4" x2="647.1" y2="508.4" stroke="#E9EB96" stroke-width="1.6"/><text x="648.1" y="507.5" font-size="3.25" fill="#4a4a4a">FA(Avr), AUC = 0.899,</text><text x="648.1" y="510.7" font-size="3.25" fill="#4a4a4a">p < 0.001</text><line x1="640.1" y1="515.85" x2="647.1" y2="515.85" stroke="#DC3C46" stroke-width="1.6"/><text x="648.1" y="514.95" font-size="3.25" fill="#4a4a4a">CBF(Avr), AUC = 0.704,</text><text x="648.1" y="518.15" font-size="3.25" fill="#4a4a4a">p = 0.489</text><line x1="640.1" y1="522" x2="647.1" y2="522" stroke="#5EBDB0" stroke-width="1.6"/><text x="648.1" y="523.2" font-size="3.25" fill="#4a4a4a">Reference Line</text></g>
<g><text x="25.8" y="599.8" font-size="10.2" fill="#222">e</text><text x="99.3" y="597.9" font-size="4.8" font-weight="bold" fill="#111" stroke="#111" stroke-width="0.12" text-anchor="middle" xml:space="preserve">ROC Curve (Hippocampus, Hip)</text><rect x="41.3" y="608" width="89.4" height="89.3" fill="#dfdfdf"/><path d="M41.3 608H130.7" stroke="#3c3c3c" stroke-width="1.1"/><path d="M130.7 608V697.3" stroke="#606060" stroke-width="1.25"/><path d="M41.3 608V697.3H130.7" fill="none" stroke="#1a1a1a" stroke-width="1.1"/><g fill="none" stroke-width="1.9" stroke-linejoin="miter" stroke-linecap="butt"><polyline points="41.3,697.3 41.3,679.44 50.24,679.44 50.24,641.93 57.39,641.93 63.65,638.36 69.91,638.36 69.91,629.43 69.91,625.86 94.94,625.86 94.94,618.72 114.61,618.72 114.61,616.93 117.29,616.93 117.29,608 130.7,608" stroke="#3D56A6"/><polyline points="41.3,697.3 41.3,679.44 44.88,679.44 44.88,675.87 50.24,675.87 50.24,666.94 58.29,666.94 58.29,662.47 61.86,662.47 61.86,654.44 70.8,654.44 70.8,650.86 77.95,650.86 77.95,645.51 78.85,645.51 78.85,629.43 81.53,629.43 81.53,625.86 98.52,625.86 100.3,625.86 100.3,621.39 117.29,621.39 117.29,615.14 121.76,615.14 121.76,610.68 128.91,610.68 128.91,608 130.7,608" stroke="#44A85A"/><polyline points="41.3,697.3 41.3,679.44 45.77,679.44 45.77,662.47 50.24,662.47 50.24,637.47 69.91,637.47 69.91,629.43 81.53,629.43 81.53,625.86 94.94,625.86 94.94,621.39 108.35,621.39 108.35,616.93 117.29,616.93 117.29,610.68 126.23,610.68 126.23,608 130.7,608" stroke="#CBC79C"/><polyline points="41.3,697.3 41.3,679.44 50.24,679.44 50.24,675.87 61.86,675.87 61.86,666.94 66.33,666.94 66.33,658.01 70.8,658.01 70.8,654.44 77.95,654.44 77.95,645.51 81.53,645.51 81.53,633 90.47,633 90.47,625.86 94.05,625.86 94.05,616.93 114.61,616.93 114.61,608 130.7,608" stroke="#723584"/><polyline points="41.3,697.3 41.3,686.58 45.77,686.58 45.77,679.44 48.45,679.44 48.45,624.97 77.95,624.97 77.95,621.39 94.94,621.39 94.94,618.72 108.35,618.72 108.35,615.14 112.82,615.14 112.82,612.46 117.29,612.46 117.29,608 130.7,608" stroke="#E9EB96"/><polyline points="41.3,697.3 41.3,684.8 61.86,684.8 61.86,663.37 65.44,663.37 65.44,646.4 69.91,646.4 69.91,637.47 77.95,637.47 77.95,625.86 98.52,625.86 98.52,621.39 114.61,621.39 114.61,613.36 118.18,613.36 118.18,608 130.7,608" stroke="#DC3C46"/><line x1="41.3" y1="697.3" x2="130.7" y2="608" stroke="#5EBDB0"/></g><path d="M41.3 697.3v2.8M41.3 697.3h-2.8" stroke="#111" stroke-width="1.35"/><text x="41.3" y="704.9" font-size="3.5" fill="#2a2a2a" stroke="#2a2a2a" stroke-width="0.1" text-anchor="middle">0.0</text><text x="37.4" y="698.65" font-size="3.5" fill="#2a2a2a" stroke="#2a2a2a" stroke-width="0.1" text-anchor="end">0.0</text><path d="M59.18 697.3v2.8M41.3 679.44h-2.8" stroke="#111" stroke-width="1.35"/><text x="59.18" y="704.9" font-size="3.5" fill="#2a2a2a" stroke="#2a2a2a" stroke-width="0.1" text-anchor="middle">0.2</text><text x="37.4" y="680.79" font-size="3.5" fill="#2a2a2a" stroke="#2a2a2a" stroke-width="0.1" text-anchor="end">0.2</text><path d="M77.06 697.3v2.8M41.3 661.58h-2.8" stroke="#111" stroke-width="1.35"/><text x="77.06" y="704.9" font-size="3.5" fill="#2a2a2a" stroke="#2a2a2a" stroke-width="0.1" text-anchor="middle">0.4</text><text x="37.4" y="662.93" font-size="3.5" fill="#2a2a2a" stroke="#2a2a2a" stroke-width="0.1" text-anchor="end">0.4</text><path d="M94.94 697.3v2.8M41.3 643.72h-2.8" stroke="#111" stroke-width="1.35"/><text x="94.94" y="704.9" font-size="3.5" fill="#2a2a2a" stroke="#2a2a2a" stroke-width="0.1" text-anchor="middle">0.6</text><text x="37.4" y="645.07" font-size="3.5" fill="#2a2a2a" stroke="#2a2a2a" stroke-width="0.1" text-anchor="end">0.6</text><path d="M112.82 697.3v2.8M41.3 625.86h-2.8" stroke="#111" stroke-width="1.35"/><text x="112.82" y="704.9" font-size="3.5" fill="#2a2a2a" stroke="#2a2a2a" stroke-width="0.1" text-anchor="middle">0.8</text><text x="37.4" y="627.21" font-size="3.5" fill="#2a2a2a" stroke="#2a2a2a" stroke-width="0.1" text-anchor="end">0.8</text><path d="M130.7 697.3v2.8M41.3 608h-2.8" stroke="#111" stroke-width="1.35"/><text x="130.7" y="704.9" font-size="3.5" fill="#2a2a2a" stroke="#2a2a2a" stroke-width="0.1" text-anchor="middle">1.0</text><text x="37.4" y="609.35" font-size="3.5" fill="#2a2a2a" stroke="#2a2a2a" stroke-width="0.1" text-anchor="end">1.0</text><text x="86" y="711.9" font-size="4.65" font-weight="bold" fill="#111" stroke="#111" stroke-width="0.18" text-anchor="middle">1 - Specificity</text><text transform="translate(29.2 652.65) rotate(-90)" font-size="4.6" font-weight="bold" fill="#111" stroke="#111" stroke-width="0.18" text-anchor="middle">Sensitivity</text><text x="136.7" y="613.1" font-size="3.84" font-weight="bold" fill="#111" stroke="#111" stroke-width="0.1">Source of the Curve</text><line x1="133.5" y1="617" x2="140.5" y2="617" stroke="#3D56A6" stroke-width="1.6"/><text x="141.5" y="616.1" font-size="3.25" fill="#4a4a4a">FA(MM), AUC = 0.894,</text><text x="141.5" y="619.3" font-size="3.25" fill="#4a4a4a">p = 0.636</text><line x1="133.5" y1="624.45" x2="140.5" y2="624.45" stroke="#44A85A" stroke-width="1.6"/><text x="141.5" y="623.55" font-size="3.25" fill="#4a4a4a">CBF(MM), AUC = 0.736,</text><text x="141.5" y="626.75" font-size="3.25" fill="#4a4a4a">p = 0.769</text><line x1="133.5" y1="631.9" x2="140.5" y2="631.9" stroke="#CBC79C" stroke-width="1.6"/><text x="141.5" y="631" font-size="3.25" fill="#4a4a4a">FA(LA), AUC = 0.537,</text><text x="141.5" y="634.2" font-size="3.25" fill="#4a4a4a">p = 0.189</text><line x1="133.5" y1="639.35" x2="140.5" y2="639.35" stroke="#723584" stroke-width="1.6"/><text x="141.5" y="638.45" font-size="3.25" fill="#4a4a4a">CBF(LA), AUC = 0.825,</text><text x="141.5" y="641.65" font-size="3.25" fill="#4a4a4a">p = 0.049</text><line x1="133.5" y1="646.8" x2="140.5" y2="646.8" stroke="#E9EB96" stroke-width="1.6"/><text x="141.5" y="645.9" font-size="3.25" fill="#4a4a4a">FA(Avr), AUC = 0.667,</text><text x="141.5" y="649.1" font-size="3.25" fill="#4a4a4a">p < 0.001</text><line x1="133.5" y1="654.25" x2="140.5" y2="654.25" stroke="#DC3C46" stroke-width="1.6"/><text x="141.5" y="653.35" font-size="3.25" fill="#4a4a4a">CBF(Avr), AUC = 0.607,</text><text x="141.5" y="656.55" font-size="3.25" fill="#4a4a4a">p < 0.001</text><line x1="133.5" y1="660.4" x2="140.5" y2="660.4" stroke="#5EBDB0" stroke-width="1.6"/><text x="141.5" y="661.6" font-size="3.25" fill="#4a4a4a">Reference Line</text></g>
<g><text x="198.5" y="599.6" font-size="10.2" fill="#222">f</text><text x="266.6" y="597.9" font-size="4.8" font-weight="bold" fill="#111" stroke="#111" stroke-width="0.12" text-anchor="middle" xml:space="preserve">ROC Curve (Prefrontal cortex, PFC)</text><rect x="208.6" y="608" width="89.1" height="89.3" fill="#dfdfdf"/><path d="M208.6 608H297.7" stroke="#3c3c3c" stroke-width="1.1"/><path d="M297.7 608V697.3" stroke="#606060" stroke-width="1.25"/><path d="M208.6 608V697.3H297.7" fill="none" stroke="#1a1a1a" stroke-width="1.1"/><g fill="none" stroke-width="1.9" stroke-linejoin="miter" stroke-linecap="butt"><polyline points="208.6,697.3 208.6,670.51 210.38,670.51 210.38,666.94 212.16,666.94 212.16,658.01 221.07,658.01 221.07,650.86 228.2,650.86 228.2,648.18 233.55,636.58 238.89,629.43 245.13,629.43 245.13,624.97 252.26,624.97 252.26,618.72 254.93,618.72 254.93,616.93 262.06,616.93 262.06,615.14 279.88,615.14 279.88,613.36 288.79,613.36 288.79,608 297.7,608" stroke="#3D56A6"/><polyline points="208.6,697.3 208.6,670.51 212.16,670.51 212.16,650.86 224.64,650.86 224.64,638.36 235.33,638.36 235.33,633 245.13,633 245.13,629.43 251.37,629.43 251.37,624.97 265.62,624.97 265.62,620.5 279.88,620.5 279.88,616.93 288.79,616.93 288.79,611.57 295.92,611.57 295.92,608 297.7,608" stroke="#44A85A"/><polyline points="208.6,697.3 208.6,670.51 211.27,670.51 211.27,652.65 221.07,652.65 221.07,633.9 252.26,633.9 252.26,631.22 254.93,631.22 254.93,618.72 270.97,618.72 270.97,610.68 273.64,610.68 273.64,608 297.7,608" stroke="#CBC79C"/><polyline points="208.6,697.3 208.6,679.44 212.16,679.44 212.16,654.44 221.07,654.44 221.07,650.86 226.42,650.86 226.42,646.4 237.11,646.4 237.11,633.9 245.13,633.9 245.13,629.43 264.73,629.43 264.73,624.97 278.1,624.97 278.1,616.93 284.33,616.93 284.33,613.36 293.25,613.36 293.25,608 297.7,608" stroke="#723584"/><polyline points="208.6,697.3 208.6,650.86 212.16,650.86 212.16,640.15 215.73,640.15 215.73,637.47 226.42,637.47 226.42,633 235.33,633 235.33,629.43 248.69,629.43 248.69,624.07 253.15,624.07 253.15,618.72 259.39,618.72 259.39,614.25 265.62,614.25 265.62,610.68 268.3,610.68 268.3,608 297.7,608" stroke="#E9EB96"/><polyline points="208.6,697.3 208.6,684.8 212.16,684.8 212.16,650.86 224.64,650.86 224.64,646.4 228.2,646.4 228.2,637.47 240.68,637.47 240.68,633 245.13,633 245.13,629.43 276.32,629.43 276.32,616.93 289.68,616.93 289.68,611.57 295.92,611.57 295.92,608 297.7,608" stroke="#DC3C46"/><line x1="208.6" y1="697.3" x2="297.7" y2="608" stroke="#5EBDB0"/></g><path d="M208.6 697.3v2.8M208.6 697.3h-2.8" stroke="#111" stroke-width="1.35"/><text x="208.6" y="704.9" font-size="3.5" fill="#2a2a2a" stroke="#2a2a2a" stroke-width="0.1" text-anchor="middle">0.0</text><text x="204.7" y="698.65" font-size="3.5" fill="#2a2a2a" stroke="#2a2a2a" stroke-width="0.1" text-anchor="end">0.0</text><path d="M226.42 697.3v2.8M208.6 679.44h-2.8" stroke="#111" stroke-width="1.35"/><text x="226.42" y="704.9" font-size="3.5" fill="#2a2a2a" stroke="#2a2a2a" stroke-width="0.1" text-anchor="middle">0.2</text><text x="204.7" y="680.79" font-size="3.5" fill="#2a2a2a" stroke="#2a2a2a" stroke-width="0.1" text-anchor="end">0.2</text><path d="M244.24 697.3v2.8M208.6 661.58h-2.8" stroke="#111" stroke-width="1.35"/><text x="244.24" y="704.9" font-size="3.5" fill="#2a2a2a" stroke="#2a2a2a" stroke-width="0.1" text-anchor="middle">0.4</text><text x="204.7" y="662.93" font-size="3.5" fill="#2a2a2a" stroke="#2a2a2a" stroke-width="0.1" text-anchor="end">0.4</text><path d="M262.06 697.3v2.8M208.6 643.72h-2.8" stroke="#111" stroke-width="1.35"/><text x="262.06" y="704.9" font-size="3.5" fill="#2a2a2a" stroke="#2a2a2a" stroke-width="0.1" text-anchor="middle">0.6</text><text x="204.7" y="645.07" font-size="3.5" fill="#2a2a2a" stroke="#2a2a2a" stroke-width="0.1" text-anchor="end">0.6</text><path d="M279.88 697.3v2.8M208.6 625.86h-2.8" stroke="#111" stroke-width="1.35"/><text x="279.88" y="704.9" font-size="3.5" fill="#2a2a2a" stroke="#2a2a2a" stroke-width="0.1" text-anchor="middle">0.8</text><text x="204.7" y="627.21" font-size="3.5" fill="#2a2a2a" stroke="#2a2a2a" stroke-width="0.1" text-anchor="end">0.8</text><path d="M297.7 697.3v2.8M208.6 608h-2.8" stroke="#111" stroke-width="1.35"/><text x="297.7" y="704.9" font-size="3.5" fill="#2a2a2a" stroke="#2a2a2a" stroke-width="0.1" text-anchor="middle">1.0</text><text x="204.7" y="609.35" font-size="3.5" fill="#2a2a2a" stroke="#2a2a2a" stroke-width="0.1" text-anchor="end">1.0</text><text x="253.15" y="711.9" font-size="4.65" font-weight="bold" fill="#111" stroke="#111" stroke-width="0.18" text-anchor="middle">1 - Specificity</text><text transform="translate(196.5 652.65) rotate(-90)" font-size="4.6" font-weight="bold" fill="#111" stroke="#111" stroke-width="0.18" text-anchor="middle">Sensitivity</text><text x="303.7" y="613.1" font-size="3.84" font-weight="bold" fill="#111" stroke="#111" stroke-width="0.1">Source of the Curve</text><line x1="300.5" y1="617" x2="307.5" y2="617" stroke="#3D56A6" stroke-width="1.6"/><text x="308.5" y="616.1" font-size="3.25" fill="#4a4a4a">FA(MM), AUC = 0.552,</text><text x="308.5" y="619.3" font-size="3.25" fill="#4a4a4a">p < 0.001</text><line x1="300.5" y1="624.45" x2="307.5" y2="624.45" stroke="#44A85A" stroke-width="1.6"/><text x="308.5" y="623.55" font-size="3.25" fill="#4a4a4a">CBF(MM), AUC = 0.667,</text><text x="308.5" y="626.75" font-size="3.25" fill="#4a4a4a">p < 0.001</text><line x1="300.5" y1="631.9" x2="307.5" y2="631.9" stroke="#CBC79C" stroke-width="1.6"/><text x="308.5" y="631" font-size="3.25" fill="#4a4a4a">FA(LA), AUC = 0.599,</text><text x="308.5" y="634.2" font-size="3.25" fill="#4a4a4a">p < 0.001</text><line x1="300.5" y1="639.35" x2="307.5" y2="639.35" stroke="#723584" stroke-width="1.6"/><text x="308.5" y="638.45" font-size="3.25" fill="#4a4a4a">CBF(LA), AUC = 0.949,</text><text x="308.5" y="641.65" font-size="3.25" fill="#4a4a4a">p = 0.144</text><line x1="300.5" y1="646.8" x2="307.5" y2="646.8" stroke="#E9EB96" stroke-width="1.6"/><text x="308.5" y="645.9" font-size="3.25" fill="#4a4a4a">FA(Avr), AUC = 0.797,</text><text x="308.5" y="649.1" font-size="3.25" fill="#4a4a4a">p < 0.001</text><line x1="300.5" y1="654.25" x2="307.5" y2="654.25" stroke="#DC3C46" stroke-width="1.6"/><text x="308.5" y="653.35" font-size="3.25" fill="#4a4a4a">CBF(Avr), AUC = 0.558,</text><text x="308.5" y="656.55" font-size="3.25" fill="#4a4a4a">p < 0.001</text><line x1="300.5" y1="660.4" x2="307.5" y2="660.4" stroke="#5EBDB0" stroke-width="1.6"/><text x="308.5" y="661.6" font-size="3.25" fill="#4a4a4a">Reference Line</text></g>
<g><text x="368.5" y="597.8" font-size="10.2" fill="#222">g</text><text x="437.3" y="597.9" font-size="4.8" font-weight="bold" fill="#111" stroke="#111" stroke-width="0.12" text-anchor="middle" xml:space="preserve">ROC Curve (Frontal white matter, FWM)</text><rect x="379.3" y="608" width="89.4" height="89" fill="#dfdfdf"/><path d="M379.3 608H468.7" stroke="#3c3c3c" stroke-width="1.1"/><path d="M468.7 608V697" stroke="#606060" stroke-width="1.25"/><path d="M379.3 608V697H468.7" fill="none" stroke="#1a1a1a" stroke-width="1.1"/><g fill="none" stroke-width="1.9" stroke-linejoin="miter" stroke-linecap="butt"><polyline points="379.3,697 379.3,675.64 395.39,675.64 395.39,672.97 398.97,672.97 398.97,668.52 400.76,668.52 400.76,662.29 406.12,662.29 406.12,658.73 409.7,658.73 409.7,654.28 432.05,654.28 432.05,642.71 436.52,642.71 436.52,633.81 460.65,633.81 460.65,616.9 464.23,616.9 464.23,611.56 468.7,611.56 468.7,608" stroke="#3D56A6"/><polyline points="379.3,697 379.3,649.83 382.88,649.83 382.88,646.27 388.24,646.27 388.24,637.37 407.91,637.37 407.91,625.8 411.48,625.8 411.48,620.46 432.94,620.46 432.94,616.9 436.52,616.9 436.52,611.56 452.61,611.56 452.61,608 468.7,608" stroke="#44A85A"/><polyline points="379.3,697 379.3,670.3 382.88,670.3 382.88,666.74 390.03,666.74 390.03,664.96 393.6,664.96 393.6,661.4 397.18,661.4 397.18,656.95 403.44,656.95 403.44,646.27 424,646.27 424,643.6 424,632.92 431.15,632.92 431.15,624.91 434.73,624.91 434.73,622.24 464.23,622.24 464.23,612.45 468.7,612.45 468.7,608" stroke="#CBC79C"/><polyline points="379.3,697 379.3,659.62 382.88,659.62 382.88,652.5 387.35,652.5 387.35,629.36 411.48,629.36 411.48,620.46 428.47,620.46 428.47,612.45 436.52,612.45 436.52,608 468.7,608" stroke="#723584"/><polyline points="379.3,697 381.09,697 381.09,685.43 381.98,685.43 381.98,674.75 388.24,674.75 388.24,672.08 397.18,672.08 397.18,663.18 406.12,663.18 406.12,654.28 415.06,654.28 415.06,649.83 424,649.83 424,646.27 432.94,646.27 432.94,641.82 435.62,641.82 435.62,616.9 468.7,616.9 468.7,615.12 468.7,608" stroke="#E9EB96"/><polyline points="379.3,697 379.3,658.73 382.88,658.73 382.88,646.27 388.24,646.27 388.24,632.92 407.91,632.92 407.91,620.46 411.48,620.46 411.48,616.01 428.47,616.01 428.47,614.23 432.05,614.23 432.05,611.56 449.03,611.56 449.03,608 468.7,608" stroke="#DC3C46"/><line x1="379.3" y1="697" x2="468.7" y2="608" stroke="#5EBDB0"/></g><path d="M379.3 697v2.8M379.3 697h-2.8" stroke="#111" stroke-width="1.35"/><text x="379.3" y="704.6" font-size="3.5" fill="#2a2a2a" stroke="#2a2a2a" stroke-width="0.1" text-anchor="middle">0.0</text><text x="375.4" y="698.35" font-size="3.5" fill="#2a2a2a" stroke="#2a2a2a" stroke-width="0.1" text-anchor="end">0.0</text><path d="M397.18 697v2.8M379.3 679.2h-2.8" stroke="#111" stroke-width="1.35"/><text x="397.18" y="704.6" font-size="3.5" fill="#2a2a2a" stroke="#2a2a2a" stroke-width="0.1" text-anchor="middle">0.2</text><text x="375.4" y="680.55" font-size="3.5" fill="#2a2a2a" stroke="#2a2a2a" stroke-width="0.1" text-anchor="end">0.2</text><path d="M415.06 697v2.8M379.3 661.4h-2.8" stroke="#111" stroke-width="1.35"/><text x="415.06" y="704.6" font-size="3.5" fill="#2a2a2a" stroke="#2a2a2a" stroke-width="0.1" text-anchor="middle">0.4</text><text x="375.4" y="662.75" font-size="3.5" fill="#2a2a2a" stroke="#2a2a2a" stroke-width="0.1" text-anchor="end">0.4</text><path d="M432.94 697v2.8M379.3 643.6h-2.8" stroke="#111" stroke-width="1.35"/><text x="432.94" y="704.6" font-size="3.5" fill="#2a2a2a" stroke="#2a2a2a" stroke-width="0.1" text-anchor="middle">0.6</text><text x="375.4" y="644.95" font-size="3.5" fill="#2a2a2a" stroke="#2a2a2a" stroke-width="0.1" text-anchor="end">0.6</text><path d="M450.82 697v2.8M379.3 625.8h-2.8" stroke="#111" stroke-width="1.35"/><text x="450.82" y="704.6" font-size="3.5" fill="#2a2a2a" stroke="#2a2a2a" stroke-width="0.1" text-anchor="middle">0.8</text><text x="375.4" y="627.15" font-size="3.5" fill="#2a2a2a" stroke="#2a2a2a" stroke-width="0.1" text-anchor="end">0.8</text><path d="M468.7 697v2.8M379.3 608h-2.8" stroke="#111" stroke-width="1.35"/><text x="468.7" y="704.6" font-size="3.5" fill="#2a2a2a" stroke="#2a2a2a" stroke-width="0.1" text-anchor="middle">1.0</text><text x="375.4" y="609.35" font-size="3.5" fill="#2a2a2a" stroke="#2a2a2a" stroke-width="0.1" text-anchor="end">1.0</text><text x="424" y="711.6" font-size="4.65" font-weight="bold" fill="#111" stroke="#111" stroke-width="0.18" text-anchor="middle">1 - Specificity</text><text transform="translate(367.2 652.5) rotate(-90)" font-size="4.6" font-weight="bold" fill="#111" stroke="#111" stroke-width="0.18" text-anchor="middle">Sensitivity</text><text x="474.7" y="613.1" font-size="3.84" font-weight="bold" fill="#111" stroke="#111" stroke-width="0.1">Source of the Curve</text><line x1="471.5" y1="617" x2="478.5" y2="617" stroke="#3D56A6" stroke-width="1.6"/><text x="479.5" y="616.1" font-size="3.25" fill="#4a4a4a">FA(MM), AUC = 0.613,</text><text x="479.5" y="619.3" font-size="3.25" fill="#4a4a4a">p = 0.607</text><line x1="471.5" y1="624.45" x2="478.5" y2="624.45" stroke="#44A85A" stroke-width="1.6"/><text x="479.5" y="623.55" font-size="3.25" fill="#4a4a4a">CBF(MM), AUC = 0.734,</text><text x="479.5" y="626.75" font-size="3.25" fill="#4a4a4a">p < 0.001</text><line x1="471.5" y1="631.9" x2="478.5" y2="631.9" stroke="#CBC79C" stroke-width="1.6"/><text x="479.5" y="631" font-size="3.25" fill="#4a4a4a">FA(LA), AUC = 0.875,</text><text x="479.5" y="634.2" font-size="3.25" fill="#4a4a4a">p = 0.446</text><line x1="471.5" y1="639.35" x2="478.5" y2="639.35" stroke="#723584" stroke-width="1.6"/><text x="479.5" y="638.45" font-size="3.25" fill="#4a4a4a">CBF(LA), AUC = 0.916,</text><text x="479.5" y="641.65" font-size="3.25" fill="#4a4a4a">p = 0.770</text><line x1="471.5" y1="646.8" x2="478.5" y2="646.8" stroke="#E9EB96" stroke-width="1.6"/><text x="479.5" y="645.9" font-size="3.25" fill="#4a4a4a">FA(Avr), AUC = 0.701,</text><text x="479.5" y="649.1" font-size="3.25" fill="#4a4a4a">p < 0.001</text><line x1="471.5" y1="654.25" x2="478.5" y2="654.25" stroke="#DC3C46" stroke-width="1.6"/><text x="479.5" y="653.35" font-size="3.25" fill="#4a4a4a">CBF(Avr), AUC = 0.602,</text><text x="479.5" y="656.55" font-size="3.25" fill="#4a4a4a">p < 0.001</text><line x1="471.5" y1="660.4" x2="478.5" y2="660.4" stroke="#5EBDB0" stroke-width="1.6"/><text x="479.5" y="661.6" font-size="3.25" fill="#4a4a4a">Reference Line</text></g>
<g><text x="536" y="599.8" font-size="10.2" fill="#222">h</text><text x="605.7" y="597.9" font-size="4.8" font-weight="bold" fill="#111" stroke="#111" stroke-width="0.12" text-anchor="middle" xml:space="preserve">ROC  Curve (Temporal white matter, TWM)</text><rect x="547.7" y="608" width="89.4" height="89" fill="#dfdfdf"/><path d="M547.7 608H637.1" stroke="#3c3c3c" stroke-width="1.1"/><path d="M637.1 608V697" stroke="#606060" stroke-width="1.25"/><path d="M547.7 608V697H637.1" fill="none" stroke="#1a1a1a" stroke-width="1.1"/><g fill="none" stroke-width="1.9" stroke-linejoin="miter" stroke-linecap="butt"><polyline points="547.7,697 549.49,697 549.49,692.55 553.06,692.55 553.06,679.2 560.22,679.2 560.22,675.64 560.22,668.52 565.58,668.52 565.58,663.18 584.35,663.18 584.35,654.28 592.4,654.28 592.4,625.8 600.45,625.8 600.45,620.46 624.58,620.46 624.58,618.68 629.95,618.68 629.95,612.45 637.1,612.45 637.1,608" stroke="#3D56A6"/><polyline points="547.7,697 547.7,692.55 552.17,692.55 552.17,680.09 555.75,680.09 555.75,654.28 560.22,654.28 560.22,643.6 568.26,643.6 568.26,637.37 580.78,637.37 580.78,634.7 584.35,634.7 584.35,629.36 592.4,629.36 592.4,612.45 621.01,612.45 621.01,610.67 624.58,610.67 624.58,608 637.1,608" stroke="#44A85A"/><polyline points="547.7,697 547.7,688.1 551.28,688.1 551.28,676.53 559.32,676.53 559.32,663.18 576.31,663.18 576.31,649.83 583.46,649.83 583.46,639.15 592.4,639.15 592.4,627.58 606.7,627.58 606.7,621.35 619.22,621.35 619.22,615.12 632.63,615.12 632.63,608 637.1,608" stroke="#CBC79C"/><polyline points="547.7,697 547.7,688.1 551.28,688.1 551.28,679.2 556.64,679.2 556.64,656.95 560.22,656.95 560.22,650.72 577.2,650.72 577.2,649.83 579.88,649.83 579.88,645.38 588.82,645.38 588.82,637.37 592.4,637.37 592.4,629.36 604.92,629.36 604.92,627.58 617.43,627.58 617.43,616.9 629.05,616.9 629.05,609.78 637.1,609.78 637.1,608" stroke="#723584"/><polyline points="547.7,697 547.7,692.55 551.28,692.55 551.28,683.65 556.64,683.65 556.64,663.18 563.79,663.18 563.79,649.83 577.2,649.83 580.78,649.83 580.78,643.6 587.93,643.6 587.93,632.92 592.4,632.92 592.4,625.8 605.81,625.8 605.81,624.02 614.75,624.02 614.75,618.68 623.69,618.68 623.69,612.45 637.1,612.45 637.1,611.56 637.1,608" stroke="#E9EB96"/><polyline points="547.7,697 547.7,692.55 552.17,692.55 552.17,680.09 556.64,680.09 556.64,658.73 560.22,658.73 560.22,641.82 568.26,641.82 568.26,632.92 588.82,632.92 588.82,624.91 592.4,624.91 592.4,616.01 620.11,616.01 620.11,608 637.1,608" stroke="#DC3C46"/><line x1="547.7" y1="697" x2="637.1" y2="608" stroke="#5EBDB0"/></g><path d="M547.7 697v2.8M547.7 697h-2.8" stroke="#111" stroke-width="1.35"/><text x="547.7" y="704.6" font-size="3.5" fill="#2a2a2a" stroke="#2a2a2a" stroke-width="0.1" text-anchor="middle">0.0</text><text x="543.8" y="698.35" font-size="3.5" fill="#2a2a2a" stroke="#2a2a2a" stroke-width="0.1" text-anchor="end">0.0</text><path d="M565.58 697v2.8M547.7 679.2h-2.8" stroke="#111" stroke-width="1.35"/><text x="565.58" y="704.6" font-size="3.5" fill="#2a2a2a" stroke="#2a2a2a" stroke-width="0.1" text-anchor="middle">0.2</text><text x="543.8" y="680.55" font-size="3.5" fill="#2a2a2a" stroke="#2a2a2a" stroke-width="0.1" text-anchor="end">0.2</text><path d="M583.46 697v2.8M547.7 661.4h-2.8" stroke="#111" stroke-width="1.35"/><text x="583.46" y="704.6" font-size="3.5" fill="#2a2a2a" stroke="#2a2a2a" stroke-width="0.1" text-anchor="middle">0.4</text><text x="543.8" y="662.75" font-size="3.5" fill="#2a2a2a" stroke="#2a2a2a" stroke-width="0.1" text-anchor="end">0.4</text><path d="M601.34 697v2.8M547.7 643.6h-2.8" stroke="#111" stroke-width="1.35"/><text x="601.34" y="704.6" font-size="3.5" fill="#2a2a2a" stroke="#2a2a2a" stroke-width="0.1" text-anchor="middle">0.6</text><text x="543.8" y="644.95" font-size="3.5" fill="#2a2a2a" stroke="#2a2a2a" stroke-width="0.1" text-anchor="end">0.6</text><path d="M619.22 697v2.8M547.7 625.8h-2.8" stroke="#111" stroke-width="1.35"/><text x="619.22" y="704.6" font-size="3.5" fill="#2a2a2a" stroke="#2a2a2a" stroke-width="0.1" text-anchor="middle">0.8</text><text x="543.8" y="627.15" font-size="3.5" fill="#2a2a2a" stroke="#2a2a2a" stroke-width="0.1" text-anchor="end">0.8</text><path d="M637.1 697v2.8M547.7 608h-2.8" stroke="#111" stroke-width="1.35"/><text x="637.1" y="704.6" font-size="3.5" fill="#2a2a2a" stroke="#2a2a2a" stroke-width="0.1" text-anchor="middle">1.0</text><text x="543.8" y="609.35" font-size="3.5" fill="#2a2a2a" stroke="#2a2a2a" stroke-width="0.1" text-anchor="end">1.0</text><text x="592.4" y="711.6" font-size="4.65" font-weight="bold" fill="#111" stroke="#111" stroke-width="0.18" text-anchor="middle">1 - Specificity</text><text transform="translate(535.6 652.5) rotate(-90)" font-size="4.6" font-weight="bold" fill="#111" stroke="#111" stroke-width="0.18" text-anchor="middle">Sensitivity</text><text x="643.1" y="613.1" font-size="3.84" font-weight="bold" fill="#111" stroke="#111" stroke-width="0.1">Source of the Curve</text><line x1="639.9" y1="617" x2="646.9" y2="617" stroke="#3D56A6" stroke-width="1.6"/><text x="647.9" y="616.1" font-size="3.25" fill="#4a4a4a">FA(MM), AUC = 0.803,</text><text x="647.9" y="619.3" font-size="3.25" fill="#4a4a4a">p < 0.001</text><line x1="639.9" y1="624.45" x2="646.9" y2="624.45" stroke="#44A85A" stroke-width="1.6"/><text x="647.9" y="623.55" font-size="3.25" fill="#4a4a4a">CBF(MM), AUC = 0.615,</text><text x="647.9" y="626.75" font-size="3.25" fill="#4a4a4a">p < 0.001</text><line x1="639.9" y1="631.9" x2="646.9" y2="631.9" stroke="#CBC79C" stroke-width="1.6"/><text x="647.9" y="631" font-size="3.25" fill="#4a4a4a">FA(LA), AUC = 0.951,</text><text x="647.9" y="634.2" font-size="3.25" fill="#4a4a4a">p = 0.745</text><line x1="639.9" y1="639.35" x2="646.9" y2="639.35" stroke="#723584" stroke-width="1.6"/><text x="647.9" y="638.45" font-size="3.25" fill="#4a4a4a">CBF(LA), AUC = 0.594,</text><text x="647.9" y="641.65" font-size="3.25" fill="#4a4a4a">p < 0.001</text><line x1="639.9" y1="646.8" x2="646.9" y2="646.8" stroke="#E9EB96" stroke-width="1.6"/><text x="647.9" y="645.9" font-size="3.25" fill="#4a4a4a">FA(Avr), AUC = 0.828,</text><text x="647.9" y="649.1" font-size="3.25" fill="#4a4a4a">p = 0.051</text><line x1="639.9" y1="654.25" x2="646.9" y2="654.25" stroke="#DC3C46" stroke-width="1.6"/><text x="647.9" y="653.35" font-size="3.25" fill="#4a4a4a">CBF(Avr), AUC = 0.714,</text><text x="647.9" y="656.55" font-size="3.25" fill="#4a4a4a">p = 0.606</text><line x1="639.9" y1="660.4" x2="646.9" y2="660.4" stroke="#5EBDB0" stroke-width="1.6"/><text x="647.9" y="661.6" font-size="3.25" fill="#4a4a4a">Reference Line</text></g>
<g><text x="34.3" y="734.9" font-size="10.2" fill="#222">i</text><text x="99.7" y="734.9" font-size="4.8" font-weight="bold" fill="#111" stroke="#111" stroke-width="0.12" text-anchor="middle" xml:space="preserve">ROC Curve (Occipital white matter, OWM)</text><rect x="41.7" y="745" width="89" height="88.7" fill="#dfdfdf"/><path d="M41.7 745H130.7" stroke="#3c3c3c" stroke-width="1.1"/><path d="M130.7 745V833.7" stroke="#606060" stroke-width="1.25"/><path d="M41.7 745V833.7H130.7" fill="none" stroke="#1a1a1a" stroke-width="1.1"/><g fill="none" stroke-width="1.9" stroke-linejoin="miter" stroke-linecap="butt"><polyline points="41.7,833.7 41.7,807.98 58.61,807.98 58.61,803.54 78.19,803.54 78.19,801.77 82.64,801.77 82.64,795.56 90.65,795.56 90.65,793.79 93.32,793.79 93.32,787.58 94.21,787.58 94.21,778.71 103.11,778.71 103.11,771.61 105.78,771.61 105.78,755.64 119.13,755.64 119.13,749.44 126.25,749.44 126.25,745 130.7,745" stroke="#3D56A6"/><polyline points="41.7,833.7 41.7,798.22 45.26,798.22 45.26,796.45 62.17,796.45 64.84,796.45 64.84,792.01 73.74,792.01 73.74,787.58 82.64,787.58 82.64,770.72 90.65,770.72 90.65,766.29 94.21,766.29 94.21,749.44 114.68,749.44 114.68,747.66 114.68,745 130.7,745" stroke="#44A85A"/><polyline points="41.7,833.7 41.7,807.98 55.05,807.98 55.05,802.66 58.61,802.66 58.61,796.45 65.73,796.45 65.73,791.12 78.19,791.12 78.19,778.71 88.87,778.71 94.21,778.71 94.21,766.29 101.33,766.29 101.33,762.74 105.78,762.74 105.78,753.87 121.8,753.87 121.8,749.44 130.7,749.44 130.7,745" stroke="#CBC79C"/><polyline points="41.7,833.7 41.7,803.54 45.26,803.54 45.26,796.45 62.17,796.45 62.17,787.58 65.73,787.58 73.74,787.58 73.74,766.29 82.64,766.29 82.64,757.42 94.21,757.42 94.21,752.98 110.23,752.98 110.23,747.66 114.68,747.66 114.68,745 130.7,745" stroke="#723584"/><polyline points="41.7,833.7 42.59,833.7 42.59,814.19 46.15,814.19 46.15,807.09 55.05,807.09 55.05,799.99 68.4,799.99 68.4,798.22 81.75,798.22 81.75,795.56 90.65,795.56 90.65,789.35 92.43,789.35 92.43,773.38 103.11,773.38 103.11,767.18 103.11,753.87 130.7,753.87 130.7,752.1 130.7,745" stroke="#E9EB96"/><polyline points="41.7,833.7 41.7,795.56 62.17,795.56 62.17,787.58 73.74,787.58 73.74,774.27 82.64,774.27 82.64,761.85 90.65,761.85 90.65,752.98 103.11,752.98 103.11,748.55 114.68,748.55 114.68,745 130.7,745" stroke="#DC3C46"/><line x1="41.7" y1="833.7" x2="130.7" y2="745" stroke="#5EBDB0"/></g><path d="M41.7 833.7v2.8M41.7 833.7h-2.8" stroke="#111" stroke-width="1.35"/><text x="41.7" y="841.3" font-size="3.5" fill="#2a2a2a" stroke="#2a2a2a" stroke-width="0.1" text-anchor="middle">0.0</text><text x="37.8" y="835.05" font-size="3.5" fill="#2a2a2a" stroke="#2a2a2a" stroke-width="0.1" text-anchor="end">0.0</text><path d="M59.5 833.7v2.8M41.7 815.96h-2.8" stroke="#111" stroke-width="1.35"/><text x="59.5" y="841.3" font-size="3.5" fill="#2a2a2a" stroke="#2a2a2a" stroke-width="0.1" text-anchor="middle">0.2</text><text x="37.8" y="817.31" font-size="3.5" fill="#2a2a2a" stroke="#2a2a2a" stroke-width="0.1" text-anchor="end">0.2</text><path d="M77.3 833.7v2.8M41.7 798.22h-2.8" stroke="#111" stroke-width="1.35"/><text x="77.3" y="841.3" font-size="3.5" fill="#2a2a2a" stroke="#2a2a2a" stroke-width="0.1" text-anchor="middle">0.4</text><text x="37.8" y="799.57" font-size="3.5" fill="#2a2a2a" stroke="#2a2a2a" stroke-width="0.1" text-anchor="end">0.4</text><path d="M95.1 833.7v2.8M41.7 780.48h-2.8" stroke="#111" stroke-width="1.35"/><text x="95.1" y="841.3" font-size="3.5" fill="#2a2a2a" stroke="#2a2a2a" stroke-width="0.1" text-anchor="middle">0.6</text><text x="37.8" y="781.83" font-size="3.5" fill="#2a2a2a" stroke="#2a2a2a" stroke-width="0.1" text-anchor="end">0.6</text><path d="M112.9 833.7v2.8M41.7 762.74h-2.8" stroke="#111" stroke-width="1.35"/><text x="112.9" y="841.3" font-size="3.5" fill="#2a2a2a" stroke="#2a2a2a" stroke-width="0.1" text-anchor="middle">0.8</text><text x="37.8" y="764.09" font-size="3.5" fill="#2a2a2a" stroke="#2a2a2a" stroke-width="0.1" text-anchor="end">0.8</text><path d="M130.7 833.7v2.8M41.7 745h-2.8" stroke="#111" stroke-width="1.35"/><text x="130.7" y="841.3" font-size="3.5" fill="#2a2a2a" stroke="#2a2a2a" stroke-width="0.1" text-anchor="middle">1.0</text><text x="37.8" y="746.35" font-size="3.5" fill="#2a2a2a" stroke="#2a2a2a" stroke-width="0.1" text-anchor="end">1.0</text><text x="86.2" y="848.3" font-size="4.65" font-weight="bold" fill="#111" stroke="#111" stroke-width="0.18" text-anchor="middle">1 - Specificity</text><text transform="translate(29.6 789.35) rotate(-90)" font-size="4.6" font-weight="bold" fill="#111" stroke="#111" stroke-width="0.18" text-anchor="middle">Sensitivity</text><text x="136.7" y="750.1" font-size="3.84" font-weight="bold" fill="#111" stroke="#111" stroke-width="0.1">Source of the Curve</text><line x1="133.5" y1="754" x2="140.5" y2="754" stroke="#3D56A6" stroke-width="1.6"/><text x="141.5" y="753.1" font-size="3.25" fill="#4a4a4a">FA(MM), AUC = 0.890,</text><text x="141.5" y="756.3" font-size="3.25" fill="#4a4a4a">p = 0.698</text><line x1="133.5" y1="761.45" x2="140.5" y2="761.45" stroke="#44A85A" stroke-width="1.6"/><text x="141.5" y="760.55" font-size="3.25" fill="#4a4a4a">CBF(MM), AUC = 0.859,</text><text x="141.5" y="763.75" font-size="3.25" fill="#4a4a4a">p < 0.001</text><line x1="133.5" y1="768.9" x2="140.5" y2="768.9" stroke="#CBC79C" stroke-width="1.6"/><text x="141.5" y="768" font-size="3.25" fill="#4a4a4a">FA(LA), AUC = 0.952,</text><text x="141.5" y="771.2" font-size="3.25" fill="#4a4a4a">p = 0.790</text><line x1="133.5" y1="776.35" x2="140.5" y2="776.35" stroke="#723584" stroke-width="1.6"/><text x="141.5" y="775.45" font-size="3.25" fill="#4a4a4a">CBF(LA), AUC = 0.668,</text><text x="141.5" y="778.65" font-size="3.25" fill="#4a4a4a">p < 0.001</text><line x1="133.5" y1="783.8" x2="140.5" y2="783.8" stroke="#E9EB96" stroke-width="1.6"/><text x="141.5" y="782.9" font-size="3.25" fill="#4a4a4a">FA(Avr), AUC = 0.628,</text><text x="141.5" y="786.1" font-size="3.25" fill="#4a4a4a">p = 0.220</text><line x1="133.5" y1="791.25" x2="140.5" y2="791.25" stroke="#DC3C46" stroke-width="1.6"/><text x="141.5" y="790.35" font-size="3.25" fill="#4a4a4a">CBF(Avr), AUC = 0.602,</text><text x="141.5" y="793.55" font-size="3.25" fill="#4a4a4a">p = 0.553</text><line x1="133.5" y1="797.4" x2="140.5" y2="797.4" stroke="#5EBDB0" stroke-width="1.6"/><text x="141.5" y="798.6" font-size="3.25" fill="#4a4a4a">Reference Line</text></g>
<g><text x="200" y="735.8" font-size="10.2" fill="#222">j</text><text x="267" y="734.9" font-size="4.8" font-weight="bold" fill="#111" stroke="#111" stroke-width="0.12" text-anchor="middle" xml:space="preserve">ROC Curve (Parietal white matter, PWM)</text><rect x="209" y="745" width="89.3" height="88.7" fill="#dfdfdf"/><path d="M209 745H298.3" stroke="#3c3c3c" stroke-width="1.1"/><path d="M298.3 745V833.7" stroke="#606060" stroke-width="1.25"/><path d="M209 745V833.7H298.3" fill="none" stroke="#1a1a1a" stroke-width="1.1"/><g fill="none" stroke-width="1.9" stroke-linejoin="miter" stroke-linecap="butt"><polyline points="209,833.7 209,802.66 212.57,802.66 212.57,798.22 225.97,798.22 225.97,796.45 227.75,789.35 231.32,784.92 232.22,784.92 232.22,778.71 237.58,778.71 237.58,774.27 249.19,774.27 249.19,770.72 258.12,770.72 258.12,762.74 262.58,762.74 262.58,753.87 267.94,753.87 267.94,747.66 271.51,747.66 271.51,745 298.3,745" stroke="#3D56A6"/><polyline points="209,833.7 209,791.12 212.13,791.12 212.13,778.71 225.07,778.71 228.65,778.71 228.65,769.84 245.61,769.84 245.61,757.42 249.19,757.42 249.19,749.44 253.65,749.44 253.65,745 298.3,745" stroke="#44A85A"/><polyline points="209,833.7 209,798.22 217.04,798.22 217.04,788.46 226.86,788.46 226.86,780.48 232.22,780.48 232.22,769.84 250.97,769.84 250.97,761.85 258.12,761.85 258.12,754.76 266.15,754.76 266.15,749.44 286.69,749.44 286.69,745 298.3,745" stroke="#CBC79C"/><polyline points="209,833.7 209,802.66 212.57,802.66 212.57,786.69 227.75,786.69 227.75,778.71 241.15,778.71 241.15,770.72 244.72,770.72 244.72,766.29 249.19,766.29 249.19,753.87 254.54,753.87 254.54,748.55 266.15,748.55 266.15,746.77 268.83,746.77 268.83,745 298.3,745" stroke="#723584"/><polyline points="209,833.7 209.89,833.7 209.89,803.54 216.14,803.54 216.14,795.56 230.43,795.56 230.43,793.79 232.22,793.79 232.22,769.84 240.25,769.84 240.25,766.29 249.19,766.29 249.19,758.31 255.44,758.31 255.44,753.87 258.12,753.87 258.12,747.66 262.58,747.66 262.58,745 298.3,745" stroke="#E9EB96"/><polyline points="209,833.7 209,799.99 212.13,799.99 212.13,786.69 220.61,786.69 220.61,778.71 225.07,778.71 225.07,774.27 228.65,774.27 228.65,766.29 249.19,766.29 249.19,752.98 254.54,752.98 254.54,748.55 266.15,748.55 266.15,745 298.3,745" stroke="#DC3C46"/><line x1="209" y1="833.7" x2="298.3" y2="745" stroke="#5EBDB0"/></g><path d="M209 833.7v2.8M209 833.7h-2.8" stroke="#111" stroke-width="1.35"/><text x="209" y="841.3" font-size="3.5" fill="#2a2a2a" stroke="#2a2a2a" stroke-width="0.1" text-anchor="middle">0.0</text><text x="205.1" y="835.05" font-size="3.5" fill="#2a2a2a" stroke="#2a2a2a" stroke-width="0.1" text-anchor="end">0.0</text><path d="M226.86 833.7v2.8M209 815.96h-2.8" stroke="#111" stroke-width="1.35"/><text x="226.86" y="841.3" font-size="3.5" fill="#2a2a2a" stroke="#2a2a2a" stroke-width="0.1" text-anchor="middle">0.2</text><text x="205.1" y="817.31" font-size="3.5" fill="#2a2a2a" stroke="#2a2a2a" stroke-width="0.1" text-anchor="end">0.2</text><path d="M244.72 833.7v2.8M209 798.22h-2.8" stroke="#111" stroke-width="1.35"/><text x="244.72" y="841.3" font-size="3.5" fill="#2a2a2a" stroke="#2a2a2a" stroke-width="0.1" text-anchor="middle">0.4</text><text x="205.1" y="799.57" font-size="3.5" fill="#2a2a2a" stroke="#2a2a2a" stroke-width="0.1" text-anchor="end">0.4</text><path d="M262.58 833.7v2.8M209 780.48h-2.8" stroke="#111" stroke-width="1.35"/><text x="262.58" y="841.3" font-size="3.5" fill="#2a2a2a" stroke="#2a2a2a" stroke-width="0.1" text-anchor="middle">0.6</text><text x="205.1" y="781.83" font-size="3.5" fill="#2a2a2a" stroke="#2a2a2a" stroke-width="0.1" text-anchor="end">0.6</text><path d="M280.44 833.7v2.8M209 762.74h-2.8" stroke="#111" stroke-width="1.35"/><text x="280.44" y="841.3" font-size="3.5" fill="#2a2a2a" stroke="#2a2a2a" stroke-width="0.1" text-anchor="middle">0.8</text><text x="205.1" y="764.09" font-size="3.5" fill="#2a2a2a" stroke="#2a2a2a" stroke-width="0.1" text-anchor="end">0.8</text><path d="M298.3 833.7v2.8M209 745h-2.8" stroke="#111" stroke-width="1.35"/><text x="298.3" y="841.3" font-size="3.5" fill="#2a2a2a" stroke="#2a2a2a" stroke-width="0.1" text-anchor="middle">1.0</text><text x="205.1" y="746.35" font-size="3.5" fill="#2a2a2a" stroke="#2a2a2a" stroke-width="0.1" text-anchor="end">1.0</text><text x="253.65" y="848.3" font-size="4.65" font-weight="bold" fill="#111" stroke="#111" stroke-width="0.18" text-anchor="middle">1 - Specificity</text><text transform="translate(196.9 789.35) rotate(-90)" font-size="4.6" font-weight="bold" fill="#111" stroke="#111" stroke-width="0.18" text-anchor="middle">Sensitivity</text><text x="304.3" y="750.1" font-size="3.84" font-weight="bold" fill="#111" stroke="#111" stroke-width="0.1">Source of the Curve</text><line x1="301.1" y1="754" x2="308.1" y2="754" stroke="#3D56A6" stroke-width="1.6"/><text x="309.1" y="753.1" font-size="3.25" fill="#4a4a4a">FA(MM), AUC = 0.775,</text><text x="309.1" y="756.3" font-size="3.25" fill="#4a4a4a">p < 0.001</text><line x1="301.1" y1="761.45" x2="308.1" y2="761.45" stroke="#44A85A" stroke-width="1.6"/><text x="309.1" y="760.55" font-size="3.25" fill="#4a4a4a">CBF(MM), AUC = 0.671,</text><text x="309.1" y="763.75" font-size="3.25" fill="#4a4a4a">p < 0.001</text><line x1="301.1" y1="768.9" x2="308.1" y2="768.9" stroke="#CBC79C" stroke-width="1.6"/><text x="309.1" y="768" font-size="3.25" fill="#4a4a4a">FA(LA), AUC = 0.749,</text><text x="309.1" y="771.2" font-size="3.25" fill="#4a4a4a">p < 0.001</text><line x1="301.1" y1="776.35" x2="308.1" y2="776.35" stroke="#723584" stroke-width="1.6"/><text x="309.1" y="775.45" font-size="3.25" fill="#4a4a4a">CBF(LA), AUC = 0.548,</text><text x="309.1" y="778.65" font-size="3.25" fill="#4a4a4a">p = 0.727</text><line x1="301.1" y1="783.8" x2="308.1" y2="783.8" stroke="#E9EB96" stroke-width="1.6"/><text x="309.1" y="782.9" font-size="3.25" fill="#4a4a4a">FA(Avr), AUC = 0.721,</text><text x="309.1" y="786.1" font-size="3.25" fill="#4a4a4a">p < 0.001</text><line x1="301.1" y1="791.25" x2="308.1" y2="791.25" stroke="#DC3C46" stroke-width="1.6"/><text x="309.1" y="790.35" font-size="3.25" fill="#4a4a4a">CBF(Avr), AUC = 0.860,</text><text x="309.1" y="793.55" font-size="3.25" fill="#4a4a4a">p = 0.806</text><line x1="301.1" y1="797.4" x2="308.1" y2="797.4" stroke="#5EBDB0" stroke-width="1.6"/><text x="309.1" y="798.6" font-size="3.25" fill="#4a4a4a">Reference Line</text></g>
<g><text x="367.5" y="737.1" font-size="10.2" fill="#222">k</text><text x="437.3" y="735.2" font-size="4.8" font-weight="bold" fill="#111" stroke="#111" stroke-width="0.12" text-anchor="middle" xml:space="preserve">ROC Curve (Fiber number, FN)</text><rect x="379.3" y="745.3" width="89.4" height="89" fill="#dfdfdf"/><path d="M379.3 745.3H468.7" stroke="#3c3c3c" stroke-width="1.1"/><path d="M468.7 745.3V834.3" stroke="#606060" stroke-width="1.25"/><path d="M379.3 745.3V834.3H468.7" fill="none" stroke="#1a1a1a" stroke-width="1.1"/><g fill="none" stroke-width="1.9" stroke-linejoin="miter" stroke-linecap="butt"><polyline points="379.3,834.3 379.3,816.5 387.35,816.5 387.35,796.03 398.97,796.03 398.97,794.25 403.44,794.25 403.44,791.58 407.91,791.58 407.91,784.46 410.59,784.46 410.59,779.12 415.95,779.12 415.95,776.45 415.95,766.66 424.89,766.66 424.89,762.21 428.47,762.21 428.47,754.2 436.52,754.2 436.52,746.19 441.88,746.19 441.88,745.3 468.7,745.3" stroke="#3D56A6"/><polyline points="379.3,834.3 379.3,817.39 387.35,817.39 387.35,804.04 399.86,804.04 399.86,796.03 407.91,796.03 407.91,783.57 415.95,783.57 415.95,766.66 424,766.66 424,764.88 428.47,764.88 428.47,755.98 436.52,755.98 436.52,748.86 449.03,748.86 449.03,745.3 468.7,745.3" stroke="#44A85A"/><polyline points="379.3,834.3 379.3,812.94 387.35,812.94 387.35,800.48 398.97,800.48 398.97,791.58 403.44,791.58 403.44,783.57 407.91,783.57 407.91,774.67 415.95,774.67 415.95,767.55 424,767.55 424,754.2 428.47,754.2 428.47,748.86 443.67,748.86 443.67,747.08 449.03,747.08 449.03,745.3 468.7,745.3" stroke="#CBC79C"/><line x1="379.3" y1="834.3" x2="468.7" y2="745.3" stroke="#7C287D"/></g><path d="M379.3 834.3v2.8M379.3 834.3h-2.8" stroke="#111" stroke-width="1.35"/><text x="379.3" y="841.9" font-size="3.5" fill="#2a2a2a" stroke="#2a2a2a" stroke-width="0.1" text-anchor="middle">0.0</text><text x="375.4" y="835.65" font-size="3.5" fill="#2a2a2a" stroke="#2a2a2a" stroke-width="0.1" text-anchor="end">0.0</text><path d="M397.18 834.3v2.8M379.3 816.5h-2.8" stroke="#111" stroke-width="1.35"/><text x="397.18" y="841.9" font-size="3.5" fill="#2a2a2a" stroke="#2a2a2a" stroke-width="0.1" text-anchor="middle">0.2</text><text x="375.4" y="817.85" font-size="3.5" fill="#2a2a2a" stroke="#2a2a2a" stroke-width="0.1" text-anchor="end">0.2</text><path d="M415.06 834.3v2.8M379.3 798.7h-2.8" stroke="#111" stroke-width="1.35"/><text x="415.06" y="841.9" font-size="3.5" fill="#2a2a2a" stroke="#2a2a2a" stroke-width="0.1" text-anchor="middle">0.4</text><text x="375.4" y="800.05" font-size="3.5" fill="#2a2a2a" stroke="#2a2a2a" stroke-width="0.1" text-anchor="end">0.4</text><path d="M432.94 834.3v2.8M379.3 780.9h-2.8" stroke="#111" stroke-width="1.35"/><text x="432.94" y="841.9" font-size="3.5" fill="#2a2a2a" stroke="#2a2a2a" stroke-width="0.1" text-anchor="middle">0.6</text><text x="375.4" y="782.25" font-size="3.5" fill="#2a2a2a" stroke="#2a2a2a" stroke-width="0.1" text-anchor="end">0.6</text><path d="M450.82 834.3v2.8M379.3 763.1h-2.8" stroke="#111" stroke-width="1.35"/><text x="450.82" y="841.9" font-size="3.5" fill="#2a2a2a" stroke="#2a2a2a" stroke-width="0.1" text-anchor="middle">0.8</text><text x="375.4" y="764.45" font-size="3.5" fill="#2a2a2a" stroke="#2a2a2a" stroke-width="0.1" text-anchor="end">0.8</text><path d="M468.7 834.3v2.8M379.3 745.3h-2.8" stroke="#111" stroke-width="1.35"/><text x="468.7" y="841.9" font-size="3.5" fill="#2a2a2a" stroke="#2a2a2a" stroke-width="0.1" text-anchor="middle">1.0</text><text x="375.4" y="746.65" font-size="3.5" fill="#2a2a2a" stroke="#2a2a2a" stroke-width="0.1" text-anchor="end">1.0</text><text x="424" y="848.9" font-size="4.65" font-weight="bold" fill="#111" stroke="#111" stroke-width="0.18" text-anchor="middle">1 - Specificity</text><text transform="translate(367.2 789.8) rotate(-90)" font-size="4.6" font-weight="bold" fill="#111" stroke="#111" stroke-width="0.18" text-anchor="middle">Sensitivity</text><text x="474.7" y="750.4" font-size="3.84" font-weight="bold" fill="#111" stroke="#111" stroke-width="0.1">Source of the Curve</text><line x1="471.5" y1="754.3" x2="478.5" y2="754.3" stroke="#3D56A6" stroke-width="1.6"/><text x="479.5" y="753.4" font-size="3.25" fill="#4a4a4a">FN-SN(MM), AUC = 0.877,</text><text x="479.5" y="756.6" font-size="3.25" fill="#4a4a4a">p = 0.189</text><line x1="471.5" y1="761.75" x2="478.5" y2="761.75" stroke="#44A85A" stroke-width="1.6"/><text x="479.5" y="760.85" font-size="3.25" fill="#4a4a4a">FN-SN(LA), AUC = 0.547,</text><text x="479.5" y="764.05" font-size="3.25" fill="#4a4a4a">p < 0.001</text><line x1="471.5" y1="769.2" x2="478.5" y2="769.2" stroke="#CBC79C" stroke-width="1.6"/><text x="479.5" y="768.3" font-size="3.25" fill="#4a4a4a">FN-SN(Av), AUC = 0.580,</text><text x="479.5" y="771.5" font-size="3.25" fill="#4a4a4a">p < 0.001</text><line x1="471.5" y1="775.35" x2="478.5" y2="775.35" stroke="#7C287D" stroke-width="1.6"/><text x="479.5" y="776.55" font-size="3.25" fill="#4a4a4a">Reference Line</text></g>
</svg></body></html>
